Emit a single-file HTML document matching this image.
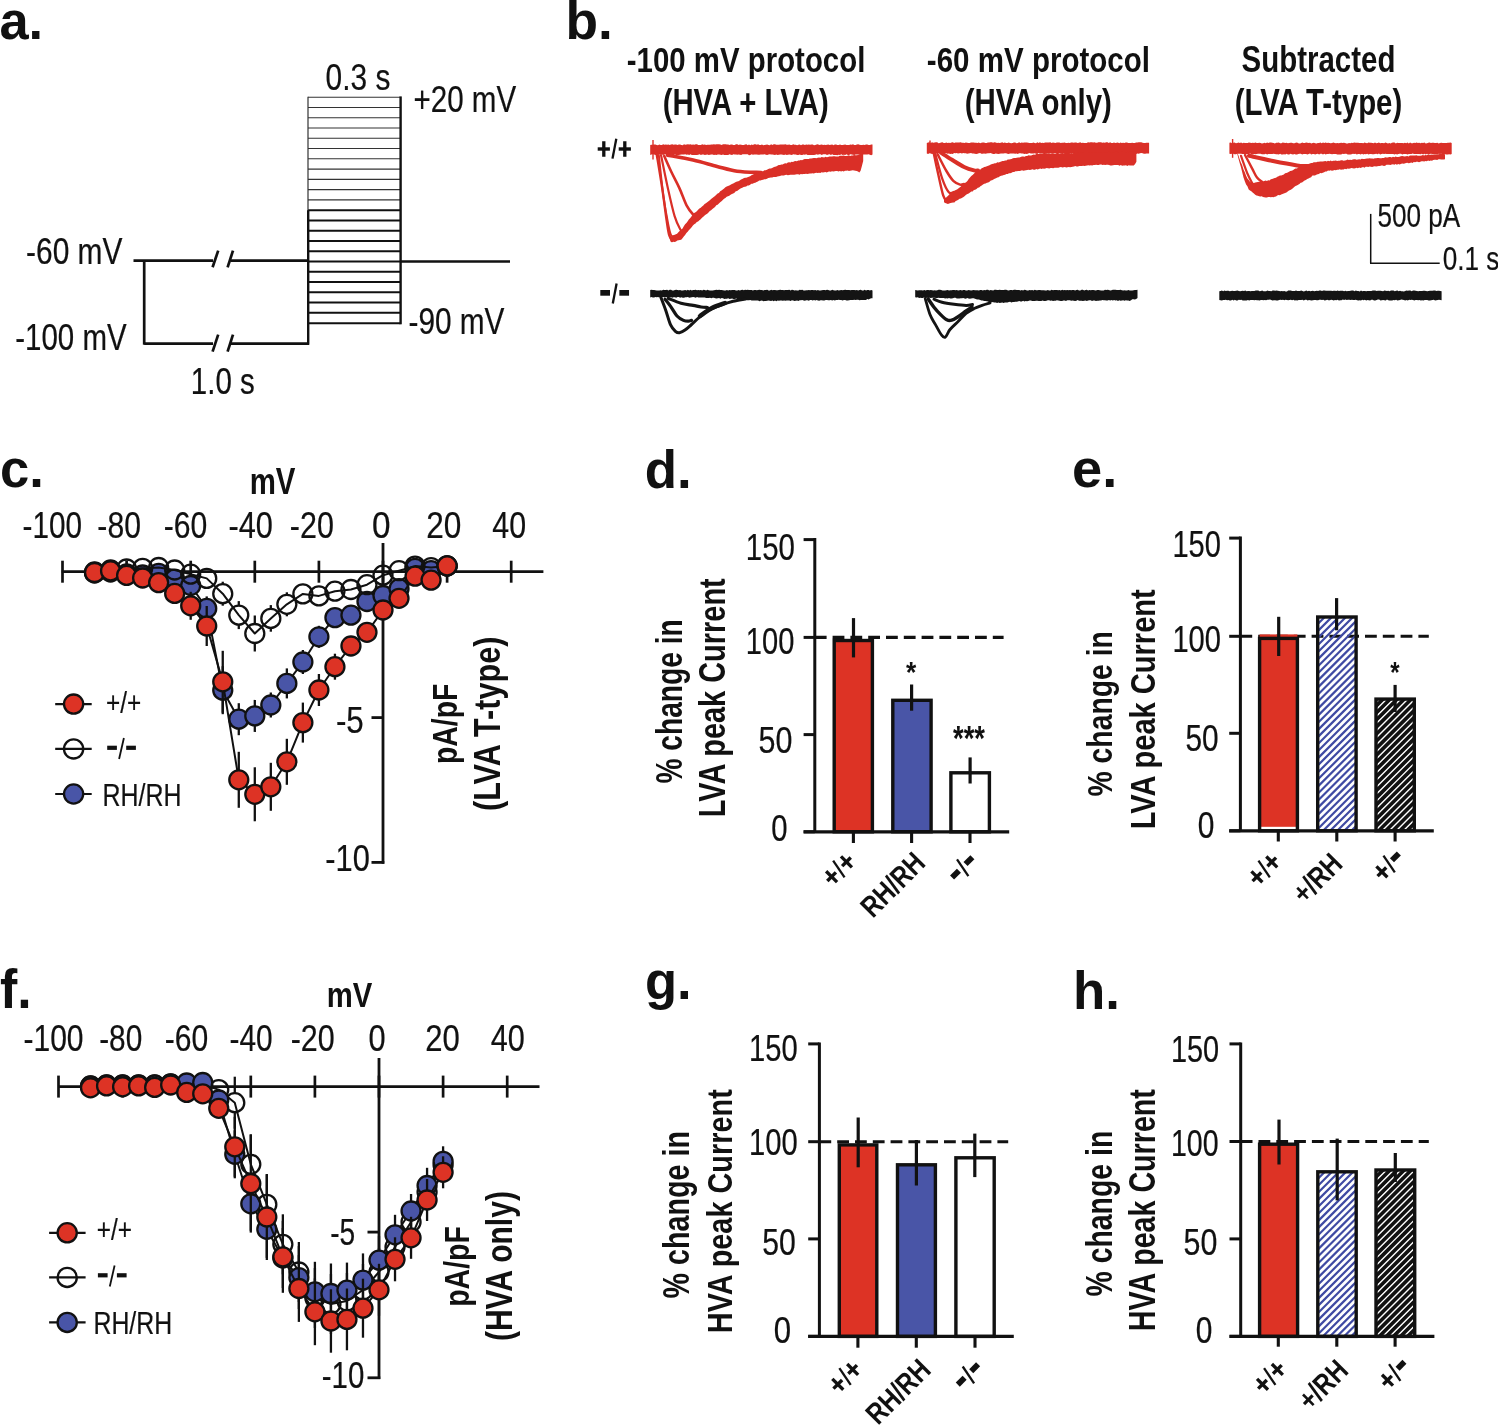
<!DOCTYPE html>
<html><head><meta charset="utf-8"><style>
html,body{margin:0;padding:0;background:#fff;}
svg{display:block;will-change:transform;}
text{font-family:"Liberation Sans",sans-serif;}
</style></head><body>
<svg width="1498" height="1426" viewBox="0 0 1498 1426">
<rect width="1498" height="1426" fill="#fff"/>
<text transform="translate(-0.57,38.80) scale(0.9784,1)" font-size="53.58" font-weight="bold" fill="#111">a.</text>
<text transform="translate(565.54,39.00) scale(1.0087,1)" font-size="52.83" font-weight="bold" fill="#111">b.</text>
<text transform="translate(0.10,487.10) scale(0.9954,1)" font-size="52.84" font-weight="bold" fill="#111">c.</text>
<text transform="translate(644.69,487.70) scale(0.9878,1)" font-size="53.52" font-weight="bold" fill="#111">d.</text>
<text transform="translate(1072.03,486.70) scale(1.0056,1)" font-size="53.95" font-weight="bold" fill="#111">e.</text>
<text transform="translate(-0.11,1007.80) scale(0.9496,1)" font-size="54.62" font-weight="bold" fill="#111">f.</text>
<text transform="translate(644.90,998.70) scale(0.9852,1)" font-size="53.40" font-weight="bold" fill="#111">g.</text>
<text transform="translate(1073.00,1008.70) scale(0.9925,1)" font-size="53.24" font-weight="bold" fill="#111">h.</text>
<line x1="133.50" y1="260.70" x2="213.00" y2="260.70" stroke="#111" stroke-width="2.7"/>
<line x1="230.50" y1="260.70" x2="308.00" y2="260.70" stroke="#111" stroke-width="2.7"/>
<line x1="212.60" y1="267.30" x2="218.20" y2="250.60" stroke="#111" stroke-width="2.7"/>
<line x1="227.60" y1="267.30" x2="233.00" y2="250.60" stroke="#111" stroke-width="2.7"/>
<line x1="144.20" y1="343.60" x2="213.00" y2="343.60" stroke="#111" stroke-width="2.7"/>
<line x1="230.50" y1="343.60" x2="309.00" y2="343.60" stroke="#111" stroke-width="2.7"/>
<line x1="212.60" y1="351.70" x2="218.20" y2="334.60" stroke="#111" stroke-width="2.7"/>
<line x1="227.60" y1="351.70" x2="233.00" y2="334.60" stroke="#111" stroke-width="2.7"/>
<line x1="144.20" y1="260.00" x2="144.20" y2="344.70" stroke="#111" stroke-width="2.7"/>
<line x1="308.00" y1="97.20" x2="400.40" y2="97.20" stroke="#333" stroke-width="1.1"/>
<line x1="308.00" y1="107.47" x2="400.40" y2="107.47" stroke="#333" stroke-width="1.1"/>
<line x1="308.00" y1="117.74" x2="400.40" y2="117.74" stroke="#333" stroke-width="1.1"/>
<line x1="308.00" y1="128.01" x2="400.40" y2="128.01" stroke="#333" stroke-width="1.1"/>
<line x1="308.00" y1="138.28" x2="400.40" y2="138.28" stroke="#333" stroke-width="1.1"/>
<line x1="308.00" y1="148.55" x2="400.40" y2="148.55" stroke="#333" stroke-width="1.1"/>
<line x1="308.00" y1="158.82" x2="400.40" y2="158.82" stroke="#333" stroke-width="1.1"/>
<line x1="308.00" y1="169.09" x2="400.40" y2="169.09" stroke="#333" stroke-width="1.1"/>
<line x1="308.00" y1="179.36" x2="400.40" y2="179.36" stroke="#333" stroke-width="1.1"/>
<line x1="308.00" y1="189.63" x2="400.40" y2="189.63" stroke="#333" stroke-width="1.1"/>
<line x1="308.00" y1="199.90" x2="400.40" y2="199.90" stroke="#333" stroke-width="1.1"/>
<line x1="308.00" y1="210.17" x2="400.40" y2="210.17" stroke="#111" stroke-width="2.0"/>
<line x1="308.00" y1="220.44" x2="400.40" y2="220.44" stroke="#111" stroke-width="2.0"/>
<line x1="308.00" y1="230.71" x2="400.40" y2="230.71" stroke="#111" stroke-width="2.0"/>
<line x1="308.00" y1="240.98" x2="400.40" y2="240.98" stroke="#111" stroke-width="2.0"/>
<line x1="308.00" y1="251.25" x2="400.40" y2="251.25" stroke="#111" stroke-width="2.0"/>
<line x1="308.00" y1="261.52" x2="400.40" y2="261.52" stroke="#111" stroke-width="2.0"/>
<line x1="308.00" y1="271.79" x2="400.40" y2="271.79" stroke="#111" stroke-width="2.0"/>
<line x1="308.00" y1="282.06" x2="400.40" y2="282.06" stroke="#111" stroke-width="2.0"/>
<line x1="308.00" y1="292.33" x2="400.40" y2="292.33" stroke="#111" stroke-width="2.0"/>
<line x1="308.00" y1="302.60" x2="400.40" y2="302.60" stroke="#111" stroke-width="2.0"/>
<line x1="308.00" y1="312.87" x2="400.40" y2="312.87" stroke="#111" stroke-width="2.0"/>
<line x1="308.00" y1="323.14" x2="400.40" y2="323.14" stroke="#111" stroke-width="2.0"/>
<line x1="308.00" y1="96.70" x2="308.00" y2="210.70" stroke="#333" stroke-width="1.2"/>
<line x1="308.20" y1="210.20" x2="308.20" y2="344.70" stroke="#111" stroke-width="2.4"/>
<line x1="400.60" y1="96.40" x2="400.60" y2="324.30" stroke="#111" stroke-width="2.4"/>
<line x1="400.40" y1="261.50" x2="510.00" y2="261.50" stroke="#111" stroke-width="2.7"/>
<text transform="translate(325.61,89.55) scale(0.7918,1)" font-size="37.71" stroke="#111" stroke-width="0.22" fill="#111">0.3 s</text>
<text transform="translate(413.50,111.95) scale(0.7840,1)" font-size="37.71" stroke="#111" stroke-width="0.22" fill="#111">+20 mV</text>
<text transform="translate(26.05,264.40) scale(0.7931,1)" font-size="37.71" stroke="#111" stroke-width="0.22" fill="#111">-60 mV</text>
<text transform="translate(15.27,350.45) scale(0.7812,1)" font-size="37.71" stroke="#111" stroke-width="0.22" fill="#111">-100 mV</text>
<text transform="translate(408.46,334.10) scale(0.7898,1)" font-size="37.71" stroke="#111" stroke-width="0.22" fill="#111">-90 mV</text>
<text transform="translate(190.79,394.25) scale(0.7821,1)" font-size="37.71" stroke="#111" stroke-width="0.22" fill="#111">1.0 s</text>
<text transform="translate(626.82,71.80) scale(0.8458,1)" font-size="34.76" font-weight="bold" fill="#111">-100 mV protocol</text>
<text transform="translate(662.63,114.70) scale(0.7769,1)" font-size="37.79" font-weight="bold" fill="#111">(HVA + LVA)</text>
<text transform="translate(926.82,71.80) scale(0.8498,1)" font-size="34.76" font-weight="bold" fill="#111">-60 mV protocol</text>
<text transform="translate(964.73,114.70) scale(0.7791,1)" font-size="37.79" font-weight="bold" fill="#111">(HVA only)</text>
<text transform="translate(1241.52,72.40) scale(0.8158,1)" font-size="36.14" font-weight="bold" fill="#111">Subtracted</text>
<text transform="translate(1234.63,114.70) scale(0.7777,1)" font-size="37.79" font-weight="bold" fill="#111">(LVA T-type)</text>
<g transform="translate(603.80,149.00) rotate(0)" fill="#111"><rect x="-6.10" y="-1.70" width="12.2" height="3.4"/><rect x="-1.65" y="-7.75" width="3.30" height="15.5"/><line x1="8.70" y1="9.60" x2="12.50" y2="-10.30" stroke="#111" stroke-width="2.3"/><rect x="14.90" y="-1.70" width="12.2" height="3.4"/><rect x="19.35" y="-7.75" width="3.30" height="15.5"/></g>
<g transform="translate(605.15,293.85) rotate(0)" fill="#111"><rect x="-4.85" y="-3.85" width="9.7" height="5.7"/><line x1="7.65" y1="9.60" x2="11.45" y2="-10.30" stroke="#111" stroke-width="2.3"/><rect x="14.20" y="-3.85" width="9.7" height="5.7"/></g>
<text transform="translate(1377.45,227.00) scale(0.8033,1)" font-size="32.54" stroke="#111" stroke-width="0.22" fill="#111">500 pA</text>
<text transform="translate(1442.75,269.90) scale(0.8033,1)" font-size="32.54" stroke="#111" stroke-width="0.22" fill="#111">0.1 s</text>
<line x1="1370.70" y1="213.90" x2="1370.70" y2="263.20" stroke="#111" stroke-width="1.5"/>
<line x1="1370.00" y1="263.20" x2="1439.70" y2="263.20" stroke="#111" stroke-width="1.5"/>
<polygon points="650.2,145.0 651.5,144.7 652.8,144.8 654.1,144.6 655.4,144.6 656.7,145.1 658.0,145.2 659.3,144.4 660.6,144.9 661.9,145.0 663.2,144.2 664.5,144.7 665.8,144.4 667.1,144.7 668.4,144.6 669.7,145.0 671.0,144.6 672.3,144.3 673.6,144.7 674.9,144.5 676.2,144.5 677.5,145.1 678.8,144.4 680.1,144.6 681.4,144.9 682.7,145.2 684.0,144.3 685.3,144.7 686.6,144.5 687.9,144.3 689.2,144.5 690.5,144.3 691.8,144.8 693.1,144.4 694.4,144.8 695.7,144.3 697.0,144.3 698.3,145.1 699.6,145.1 700.9,145.0 702.2,144.2 703.5,144.8 704.8,144.6 706.1,144.9 707.4,144.7 708.7,144.8 710.0,144.8 711.3,144.6 712.6,144.6 713.9,144.3 715.2,144.5 716.5,144.3 717.8,144.3 719.1,144.2 720.4,144.5 721.7,145.0 723.0,144.3 724.3,144.2 725.6,144.3 726.9,144.6 728.2,144.5 729.5,145.0 730.8,144.4 732.1,144.6 733.4,144.9 734.7,145.1 736.0,144.3 737.3,144.2 738.6,145.1 739.9,144.4 741.2,144.8 742.5,145.0 743.8,144.9 745.1,144.4 746.4,144.3 747.7,145.2 749.0,144.6 750.3,145.2 751.6,144.5 752.9,144.9 754.2,144.3 755.5,144.2 756.8,144.7 758.1,144.2 759.4,144.9 760.7,145.1 762.0,144.6 763.3,145.2 764.6,145.0 765.9,144.8 767.2,144.6 768.5,145.0 769.8,145.2 771.1,144.3 772.4,144.9 773.7,144.2 775.0,144.3 776.3,144.8 777.6,144.7 778.9,144.7 780.2,144.6 781.5,144.6 782.8,144.6 784.1,144.6 785.4,144.3 786.7,144.7 788.0,144.8 789.3,144.5 790.6,145.0 791.9,144.9 793.2,144.2 794.5,144.7 795.8,144.7 797.1,145.2 798.4,144.8 799.7,144.6 801.0,145.2 802.3,144.6 803.6,144.6 804.9,145.1 806.2,144.6 807.5,144.7 808.8,144.5 810.1,144.8 811.4,144.5 812.7,144.5 814.0,145.2 815.3,145.1 816.6,144.5 817.9,144.2 819.2,144.9 820.5,144.7 821.8,144.6 823.1,144.9 824.4,144.8 825.7,144.9 827.0,144.8 828.3,144.6 829.6,144.9 830.9,144.8 832.2,144.4 833.5,145.2 834.8,144.6 836.1,144.5 837.4,144.9 838.7,145.0 840.0,144.4 841.3,145.0 842.6,145.0 843.9,144.8 845.2,144.5 846.5,145.1 847.8,144.9 849.1,144.9 850.4,144.4 851.7,144.8 853.0,144.3 854.3,145.0 855.6,144.9 856.9,144.5 858.2,144.3 859.5,144.7 860.8,145.0 862.1,145.1 863.4,144.7 864.7,145.0 866.0,144.4 867.3,144.4 868.6,145.0 869.9,144.9 871.2,144.4 872.5,144.6 872.5,154.6 871.2,155.2 869.9,154.7 868.6,154.3 867.3,154.6 866.0,154.6 864.7,154.6 863.4,154.6 862.1,154.6 860.8,155.0 859.5,154.8 858.2,154.4 856.9,154.4 855.6,154.4 854.3,155.0 853.0,154.8 851.7,154.5 850.4,154.3 849.1,155.1 847.8,154.9 846.5,154.3 845.2,154.9 843.9,154.7 842.6,155.0 841.3,154.2 840.0,155.0 838.7,154.8 837.4,155.2 836.1,155.0 834.8,154.9 833.5,155.0 832.2,154.3 830.9,155.0 829.6,154.2 828.3,154.4 827.0,155.1 825.7,154.3 824.4,154.3 823.1,154.2 821.8,155.0 820.5,154.3 819.2,154.2 817.9,154.8 816.6,154.3 815.3,154.8 814.0,154.9 812.7,154.9 811.4,155.0 810.1,155.1 808.8,154.9 807.5,155.0 806.2,154.3 804.9,154.7 803.6,154.5 802.3,155.0 801.0,155.1 799.7,154.6 798.4,155.1 797.1,155.1 795.8,154.6 794.5,154.6 793.2,154.3 791.9,154.9 790.6,154.7 789.3,154.4 788.0,154.7 786.7,154.9 785.4,154.6 784.1,154.9 782.8,154.7 781.5,154.6 780.2,154.6 778.9,154.8 777.6,155.0 776.3,154.6 775.0,155.0 773.7,154.8 772.4,154.6 771.1,154.4 769.8,154.3 768.5,154.6 767.2,154.9 765.9,154.8 764.6,154.3 763.3,154.5 762.0,154.4 760.7,154.6 759.4,154.8 758.1,154.8 756.8,154.6 755.5,154.5 754.2,154.5 752.9,154.7 751.6,154.3 750.3,155.1 749.0,155.2 747.7,154.3 746.4,154.3 745.1,154.3 743.8,154.3 742.5,154.2 741.2,155.0 739.9,154.7 738.6,154.6 737.3,154.7 736.0,154.5 734.7,154.5 733.4,154.2 732.1,155.1 730.8,154.8 729.5,154.2 728.2,155.0 726.9,155.0 725.6,155.1 724.3,155.0 723.0,154.4 721.7,155.0 720.4,154.7 719.1,154.4 717.8,154.6 716.5,155.0 715.2,154.7 713.9,155.1 712.6,154.5 711.3,154.5 710.0,154.8 708.7,155.1 707.4,154.6 706.1,154.7 704.8,154.9 703.5,154.5 702.2,154.4 700.9,154.9 699.6,154.2 698.3,154.8 697.0,155.1 695.7,155.1 694.4,155.1 693.1,154.9 691.8,155.1 690.5,154.2 689.2,155.0 687.9,154.5 686.6,154.8 685.3,154.3 684.0,154.4 682.7,154.5 681.4,154.5 680.1,154.7 678.8,154.9 677.5,155.0 676.2,154.9 674.9,154.4 673.6,155.1 672.3,155.2 671.0,154.6 669.7,155.2 668.4,155.1 667.1,155.1 665.8,154.2 664.5,154.4 663.2,155.1 661.9,154.6 660.6,154.6 659.3,154.6 658.0,154.5 656.7,154.5 655.4,155.0 654.1,154.5 652.8,154.3 651.5,154.5 650.2,155.0" fill="#da2f27"/>
<line x1="653.00" y1="140.00" x2="653.00" y2="159.60" stroke="#da2f27" stroke-width="1.4"/>
<path d="M656.50,153.00 C657.45,158.85 660.52,176.92 662.20,188.10 C663.88,199.28 665.47,212.37 666.60,220.10 C667.73,227.83 668.13,231.13 669.00,234.50 C669.87,237.87 671.33,239.33 671.80,240.30" fill="none" stroke="#da2f27" stroke-width="2.4" stroke-linejoin="round" stroke-linecap="round"/>
<path d="M658.80,155.00 C659.57,161.85 661.83,184.58 663.40,196.10 C664.97,207.62 666.87,217.52 668.20,224.10 C669.53,230.68 669.93,233.78 671.40,235.60 C672.87,237.42 676.07,235.10 677.00,235.00" fill="none" stroke="#da2f27" stroke-width="2.0" stroke-linejoin="round" stroke-linecap="round"/>
<path d="M661.00,155.00 C662.20,160.78 665.93,179.52 668.20,189.70 C670.47,199.88 672.60,209.52 674.60,216.10 C676.60,222.68 678.88,226.83 680.20,229.20 C681.52,231.57 682.12,230.12 682.50,230.30" fill="none" stroke="#da2f27" stroke-width="2.2" stroke-linejoin="round" stroke-linecap="round"/>
<path d="M664.20,156.00 C665.40,158.67 668.87,166.65 671.40,172.00 C673.93,177.35 676.85,182.48 679.40,188.10 C681.95,193.72 684.42,201.30 686.70,205.70 C688.98,210.10 691.38,212.70 693.10,214.50 C694.82,216.30 696.35,216.17 697.00,216.50" fill="none" stroke="#da2f27" stroke-width="2.6" stroke-linejoin="round" stroke-linecap="round"/>
<path d="M667.40,155.20 C671.68,156.00 684.82,158.13 693.10,160.00 C701.38,161.87 709.77,164.53 717.10,166.40 C724.43,168.27 729.75,170.18 737.10,171.20 C744.45,172.22 757.18,172.28 761.20,172.50" fill="none" stroke="#da2f27" stroke-width="3.6" stroke-linejoin="round" stroke-linecap="round"/>
<polygon points="669.5,235.4 670.8,236.4 672.1,236.6 673.4,236.5 674.7,235.5 676.0,234.5 677.3,233.4 678.6,232.1 679.9,230.7 681.2,230.1 682.5,228.4 683.8,226.2 685.1,224.3 686.4,222.9 687.7,221.3 689.0,219.3 690.3,218.1 691.6,216.3 692.9,214.6 694.2,213.1 695.5,212.2 696.8,211.2 698.1,209.7 699.4,208.4 700.7,207.8 702.0,206.4 703.3,205.5 704.6,204.0 705.9,203.2 707.2,202.3 708.5,201.2 709.8,200.3 711.1,198.9 712.4,197.9 713.7,197.1 715.0,195.9 716.3,194.8 717.6,193.4 718.9,192.9 720.2,191.2 721.5,190.5 722.8,189.4 724.1,188.4 725.4,187.2 726.7,186.5 728.0,186.1 729.3,185.5 730.6,184.7 731.9,183.9 733.2,183.6 734.5,182.7 735.8,181.9 737.1,181.6 738.4,181.2 739.7,180.5 741.0,179.5 742.3,179.0 743.6,178.2 744.9,177.8 746.2,177.8 747.5,177.3 748.8,176.7 750.1,176.3 751.4,175.3 752.7,174.7 754.0,174.1 755.3,174.1 756.6,173.1 757.9,173.1 759.2,172.5 760.5,171.7 761.8,171.7 763.1,171.3 764.4,170.2 765.7,170.2 767.0,169.7 768.3,169.0 769.6,168.5 770.9,168.6 772.2,167.9 773.5,167.3 774.8,166.8 776.1,166.6 777.4,165.8 778.7,165.1 780.0,165.1 781.3,164.5 782.6,164.4 783.9,163.8 785.2,163.2 786.5,163.4 787.8,162.5 789.1,162.3 790.4,162.6 791.7,161.7 793.0,161.9 794.3,161.3 795.6,161.1 796.9,161.2 798.2,160.6 799.5,160.4 800.8,160.0 802.1,160.2 803.4,159.5 804.7,159.1 806.0,159.1 807.3,158.9 808.6,159.0 809.9,158.6 811.2,158.6 812.5,158.2 813.8,158.1 815.1,158.0 816.4,158.2 817.7,157.7 819.0,157.6 820.3,157.8 821.6,157.1 822.9,157.2 824.2,157.5 825.5,156.7 826.8,157.2 828.1,156.9 829.4,156.5 830.7,156.5 832.0,156.4 833.3,156.2 834.6,156.3 835.9,156.4 837.2,156.4 838.5,156.4 839.8,155.8 841.1,155.7 842.4,155.8 843.7,155.6 845.0,155.9 846.3,155.9 847.6,155.7 848.9,155.3 850.2,155.9 851.5,155.4 852.8,155.6 854.1,155.1 855.4,155.3 856.7,155.2 858.0,154.9 859.3,154.5 860.6,154.1 861.9,154.1 863.2,153.5 863.2,161.0 861.9,166.0 860.6,170.8 859.3,172.5 858.0,171.5 856.7,171.0 855.4,170.8 854.1,170.6 852.8,170.2 851.5,170.5 850.2,170.8 848.9,171.0 847.6,170.6 846.3,170.7 845.0,170.8 843.7,171.4 842.4,171.1 841.1,171.4 839.8,171.0 838.5,171.5 837.2,171.0 835.9,171.1 834.6,171.3 833.3,171.6 832.0,171.3 830.7,171.7 829.4,171.5 828.1,171.8 826.8,172.5 825.5,171.9 824.2,172.3 822.9,172.4 821.6,172.3 820.3,172.9 819.0,172.8 817.7,173.0 816.4,172.8 815.1,172.9 813.8,173.4 812.5,173.3 811.2,173.4 809.9,173.4 808.6,173.7 807.3,174.0 806.0,173.8 804.7,173.9 803.4,174.0 802.1,174.3 800.8,174.1 799.5,174.7 798.2,174.3 796.9,174.2 795.6,174.4 794.3,174.8 793.0,174.8 791.7,174.7 790.4,174.8 789.1,175.1 787.8,175.3 786.5,174.8 785.2,175.1 783.9,175.4 782.6,175.5 781.3,175.6 780.0,176.1 778.7,176.2 777.4,176.6 776.1,177.0 774.8,177.1 773.5,177.1 772.2,177.4 770.9,177.6 769.6,177.8 768.3,178.1 767.0,178.7 765.7,179.2 764.4,179.2 763.1,179.8 761.8,180.1 760.5,180.4 759.2,180.6 757.9,181.5 756.6,182.0 755.3,182.7 754.0,183.0 752.7,183.8 751.4,183.8 750.1,184.7 748.8,185.4 747.5,185.6 746.2,186.6 744.9,186.8 743.6,187.0 742.3,187.7 741.0,188.3 739.7,188.9 738.4,190.1 737.1,191.1 735.8,191.3 734.5,192.7 733.2,193.6 731.9,194.0 730.6,194.7 729.3,195.7 728.0,196.3 726.7,196.8 725.4,197.9 724.1,198.7 722.8,200.0 721.5,201.2 720.2,202.3 718.9,203.5 717.6,204.7 716.3,205.2 715.0,206.9 713.7,207.9 712.4,208.9 711.1,210.3 709.8,210.9 708.5,212.4 707.2,213.7 705.9,214.5 704.6,215.6 703.3,216.7 702.0,217.7 700.7,219.3 699.4,220.3 698.1,221.4 696.8,221.9 695.5,223.6 694.2,224.3 692.9,225.4 691.6,227.2 690.3,228.7 689.0,230.0 687.7,231.7 686.4,233.0 685.1,234.9 683.8,236.6 682.5,238.2 681.2,239.7 679.9,240.0 678.6,240.2 677.3,240.6 676.0,241.5 674.7,241.9 673.4,241.8 672.1,242.2 670.8,242.1 669.5,238.1" fill="#da2f27"/>
<polygon points="926.8,143.1 928.1,142.5 929.4,142.3 930.7,143.0 932.0,142.2 933.3,142.7 934.6,142.4 935.9,142.3 937.2,142.3 938.5,143.2 939.8,142.9 941.1,142.6 942.4,142.3 943.7,143.1 945.0,142.9 946.3,142.4 947.6,143.1 948.9,142.8 950.2,142.9 951.5,142.5 952.8,142.3 954.1,143.0 955.4,142.5 956.7,142.5 958.0,142.4 959.3,142.6 960.6,142.3 961.9,142.8 963.2,142.8 964.5,143.0 965.8,142.4 967.1,142.7 968.4,142.9 969.7,143.0 971.0,142.5 972.3,142.6 973.6,142.5 974.9,142.8 976.2,142.7 977.5,143.0 978.8,142.5 980.1,143.2 981.4,142.7 982.7,142.4 984.0,142.5 985.3,143.1 986.6,143.0 987.9,142.4 989.2,142.6 990.5,142.3 991.8,142.3 993.1,142.8 994.4,142.3 995.7,142.5 997.0,142.9 998.3,142.8 999.6,143.1 1000.9,142.8 1002.2,142.2 1003.5,143.1 1004.8,142.6 1006.1,143.1 1007.4,143.1 1008.7,142.6 1010.0,143.0 1011.3,143.2 1012.6,143.0 1013.9,142.6 1015.2,142.6 1016.5,143.2 1017.8,143.0 1019.1,142.2 1020.4,143.0 1021.7,142.6 1023.0,142.8 1024.3,142.4 1025.6,142.6 1026.9,142.4 1028.2,142.7 1029.5,143.0 1030.8,143.0 1032.1,143.1 1033.4,142.4 1034.7,143.1 1036.0,143.2 1037.3,142.2 1038.6,143.0 1039.9,142.3 1041.2,143.1 1042.5,142.7 1043.8,143.0 1045.1,142.4 1046.4,142.6 1047.7,142.6 1049.0,142.4 1050.3,142.3 1051.6,142.9 1052.9,142.6 1054.2,142.8 1055.5,143.1 1056.8,142.4 1058.1,142.6 1059.4,142.4 1060.7,143.0 1062.0,142.7 1063.3,142.7 1064.6,142.5 1065.9,143.1 1067.2,142.9 1068.5,142.7 1069.8,143.1 1071.1,142.6 1072.4,142.5 1073.7,142.8 1075.0,142.6 1076.3,142.6 1077.6,143.0 1078.9,142.8 1080.2,142.2 1081.5,142.9 1082.8,142.8 1084.1,143.1 1085.4,143.0 1086.7,143.0 1088.0,142.3 1089.3,142.5 1090.6,142.3 1091.9,142.2 1093.2,142.6 1094.5,142.3 1095.8,142.7 1097.1,142.8 1098.4,142.3 1099.7,142.3 1101.0,142.3 1102.3,142.7 1103.6,142.4 1104.9,142.8 1106.2,142.2 1107.5,142.3 1108.8,142.9 1110.1,142.3 1111.4,143.0 1112.7,143.1 1114.0,142.5 1115.3,142.9 1116.6,142.7 1117.9,142.6 1119.2,143.2 1120.5,142.5 1121.8,142.9 1123.1,142.8 1124.4,142.9 1125.7,142.5 1127.0,142.5 1128.3,142.9 1129.6,143.1 1130.9,142.9 1132.2,142.8 1133.5,143.1 1134.8,143.0 1136.1,142.4 1137.4,142.5 1138.7,142.2 1140.0,142.2 1141.3,142.3 1142.6,142.8 1143.9,143.0 1145.2,142.9 1146.5,142.7 1147.8,142.7 1149.1,142.7 1149.1,153.5 1147.8,153.5 1146.5,153.6 1145.2,153.8 1143.9,153.7 1142.6,153.3 1141.3,153.0 1140.0,153.3 1138.7,153.7 1137.4,153.5 1136.1,154.0 1134.8,153.4 1133.5,153.2 1132.2,154.0 1130.9,154.0 1129.6,153.9 1128.3,153.2 1127.0,153.1 1125.7,153.9 1124.4,153.4 1123.1,153.1 1121.8,153.1 1120.5,153.1 1119.2,153.3 1117.9,154.0 1116.6,153.4 1115.3,153.1 1114.0,153.4 1112.7,153.5 1111.4,154.0 1110.1,153.0 1108.8,153.9 1107.5,153.8 1106.2,153.2 1104.9,153.2 1103.6,153.8 1102.3,153.1 1101.0,153.1 1099.7,153.6 1098.4,153.7 1097.1,154.0 1095.8,153.2 1094.5,153.9 1093.2,153.1 1091.9,154.0 1090.6,153.2 1089.3,153.0 1088.0,153.5 1086.7,153.3 1085.4,153.5 1084.1,153.3 1082.8,153.1 1081.5,154.0 1080.2,153.3 1078.9,153.0 1077.6,153.8 1076.3,153.6 1075.0,153.8 1073.7,153.7 1072.4,153.5 1071.1,153.1 1069.8,153.2 1068.5,153.2 1067.2,153.1 1065.9,154.0 1064.6,153.3 1063.3,153.1 1062.0,153.3 1060.7,153.4 1059.4,153.3 1058.1,153.9 1056.8,153.9 1055.5,153.3 1054.2,153.3 1052.9,153.8 1051.6,153.4 1050.3,153.2 1049.0,153.9 1047.7,153.2 1046.4,153.6 1045.1,154.0 1043.8,153.9 1042.5,153.5 1041.2,153.4 1039.9,153.7 1038.6,153.1 1037.3,153.9 1036.0,153.7 1034.7,153.3 1033.4,153.5 1032.1,153.5 1030.8,153.6 1029.5,153.0 1028.2,153.6 1026.9,153.9 1025.6,153.8 1024.3,153.9 1023.0,153.4 1021.7,153.5 1020.4,153.3 1019.1,153.2 1017.8,154.0 1016.5,153.5 1015.2,153.8 1013.9,153.5 1012.6,153.4 1011.3,153.4 1010.0,153.5 1008.7,154.0 1007.4,153.7 1006.1,153.2 1004.8,153.2 1003.5,153.5 1002.2,153.4 1000.9,153.6 999.6,153.8 998.3,153.9 997.0,153.7 995.7,153.5 994.4,153.9 993.1,153.9 991.8,153.6 990.5,153.0 989.2,153.2 987.9,153.3 986.6,153.6 985.3,153.8 984.0,153.5 982.7,153.8 981.4,153.8 980.1,153.1 978.8,153.2 977.5,153.8 976.2,153.9 974.9,153.7 973.6,153.6 972.3,153.4 971.0,153.0 969.7,153.3 968.4,153.4 967.1,153.8 965.8,153.2 964.5,153.3 963.2,153.1 961.9,153.5 960.6,153.1 959.3,153.3 958.0,153.4 956.7,153.0 955.4,153.2 954.1,153.0 952.8,154.0 951.5,153.8 950.2,154.0 948.9,153.5 947.6,153.8 946.3,153.2 945.0,153.1 943.7,153.2 942.4,153.5 941.1,153.5 939.8,153.1 938.5,153.0 937.2,153.8 935.9,153.2 934.6,153.3 933.3,153.8 932.0,153.9 930.7,153.5 929.4,153.3 928.1,153.9 926.8,153.4" fill="#da2f27"/>
<line x1="930.00" y1="140.50" x2="930.00" y2="152.00" stroke="#da2f27" stroke-width="1.4"/>
<path d="M933.60,152.60 C934.40,156.33 936.80,167.87 938.40,175.00 C940.00,182.13 941.87,191.13 943.20,195.40 C944.53,199.67 945.87,199.73 946.40,200.60" fill="none" stroke="#da2f27" stroke-width="2.4" stroke-linejoin="round" stroke-linecap="round"/>
<path d="M935.20,153.40 C936.40,157.68 940.13,172.63 942.40,179.10 C944.67,185.57 946.87,190.05 948.80,192.20 C950.73,194.35 953.13,192.03 954.00,192.00" fill="none" stroke="#da2f27" stroke-width="2.3" stroke-linejoin="round" stroke-linecap="round"/>
<path d="M937.60,154.20 C939.07,157.00 943.73,166.50 946.40,171.00 C949.07,175.50 951.33,178.93 953.60,181.20 C955.87,183.47 958.27,184.13 960.00,184.60 C961.73,185.07 963.33,184.10 964.00,184.00" fill="none" stroke="#da2f27" stroke-width="2.5" stroke-linejoin="round" stroke-linecap="round"/>
<path d="M940.80,152.60 C942.67,153.80 948.12,157.40 952.00,159.80 C955.88,162.20 960.43,165.23 964.10,167.00 C967.77,168.77 971.68,169.82 974.00,170.40 C976.32,170.98 977.33,170.48 978.00,170.50" fill="none" stroke="#da2f27" stroke-width="4.0" stroke-linejoin="round" stroke-linecap="round"/>
<polygon points="944.0,200.1 945.3,198.7 946.6,197.0 947.9,196.1 949.2,194.4 950.5,193.0 951.8,192.3 953.1,192.0 954.4,190.7 955.7,190.0 957.0,189.6 958.3,188.5 959.6,187.5 960.9,186.6 962.2,184.8 963.5,184.3 964.8,182.9 966.1,182.2 967.4,180.9 968.7,178.9 970.0,177.6 971.3,176.1 972.6,175.0 973.9,173.8 975.2,172.2 976.5,171.6 977.8,170.6 979.1,169.9 980.4,169.4 981.7,168.3 983.0,167.8 984.3,167.0 985.6,166.7 986.9,166.3 988.2,165.8 989.5,165.2 990.8,164.5 992.1,164.1 993.4,163.7 994.7,163.3 996.0,163.3 997.3,162.3 998.6,162.4 999.9,162.1 1001.2,161.5 1002.5,161.0 1003.8,161.0 1005.1,160.4 1006.4,160.4 1007.7,159.5 1009.0,159.6 1010.3,159.2 1011.6,158.9 1012.9,158.3 1014.2,157.9 1015.5,157.9 1016.8,157.7 1018.1,157.4 1019.4,157.6 1020.7,157.1 1022.0,156.5 1023.3,156.4 1024.6,156.7 1025.9,155.9 1027.2,156.0 1028.5,155.3 1029.8,155.6 1031.1,155.5 1032.4,155.0 1033.7,154.5 1035.0,154.7 1036.3,154.1 1037.6,154.0 1038.9,154.1 1040.2,154.0 1041.5,153.8 1042.8,153.8 1044.1,153.8 1045.4,153.6 1046.7,153.3 1048.0,153.6 1049.3,153.9 1050.6,153.8 1051.9,153.6 1053.2,153.4 1054.5,153.8 1055.8,153.8 1057.1,153.6 1058.4,153.6 1059.7,153.7 1061.0,153.3 1062.3,153.0 1063.6,153.2 1064.9,153.0 1066.2,152.9 1067.5,152.9 1068.8,152.8 1070.1,153.2 1071.4,152.9 1072.7,153.4 1074.0,152.7 1075.3,153.1 1076.6,153.0 1077.9,152.6 1079.2,153.1 1080.5,153.1 1081.8,152.6 1083.1,152.7 1084.4,153.1 1085.7,153.1 1087.0,152.9 1088.3,153.1 1089.6,152.4 1090.9,152.9 1092.2,152.8 1093.5,152.7 1094.8,152.5 1096.1,152.6 1097.4,152.4 1098.7,152.3 1100.0,152.5 1101.3,152.7 1102.6,152.0 1103.9,152.2 1105.2,152.7 1106.5,152.3 1107.8,152.1 1109.1,151.8 1110.4,152.6 1111.7,152.6 1113.0,152.2 1114.3,152.2 1115.6,151.8 1116.9,151.8 1118.2,152.2 1119.5,152.1 1120.8,151.9 1122.1,151.6 1123.4,152.1 1124.7,152.0 1126.0,152.2 1127.3,151.7 1128.6,152.2 1129.9,151.4 1131.2,151.7 1132.5,151.6 1133.8,152.0 1135.1,151.9 1136.4,151.6 1136.4,161.7 1135.1,164.1 1133.8,165.5 1132.5,165.4 1131.2,165.6 1129.9,165.6 1128.6,165.3 1127.3,165.9 1126.0,165.3 1124.7,165.4 1123.4,165.4 1122.1,165.7 1120.8,165.0 1119.5,165.7 1118.2,165.1 1116.9,165.1 1115.6,164.9 1114.3,165.1 1113.0,165.2 1111.7,165.4 1110.4,165.4 1109.1,165.1 1107.8,164.7 1106.5,164.7 1105.2,164.9 1103.9,164.7 1102.6,164.9 1101.3,164.5 1100.0,164.5 1098.7,164.9 1097.4,164.9 1096.1,164.8 1094.8,165.1 1093.5,165.0 1092.2,165.5 1090.9,165.3 1089.6,165.5 1088.3,165.3 1087.0,165.6 1085.7,165.8 1084.4,166.0 1083.1,165.7 1081.8,166.1 1080.5,166.1 1079.2,166.1 1077.9,166.5 1076.6,166.5 1075.3,166.1 1074.0,166.4 1072.7,166.8 1071.4,167.0 1070.1,167.2 1068.8,166.9 1067.5,167.3 1066.2,167.4 1064.9,167.0 1063.6,167.3 1062.3,167.5 1061.0,167.1 1059.7,167.2 1058.4,167.8 1057.1,167.7 1055.8,167.7 1054.5,167.8 1053.2,168.2 1051.9,168.0 1050.6,168.1 1049.3,168.5 1048.0,168.3 1046.7,168.0 1045.4,168.5 1044.1,168.7 1042.8,168.5 1041.5,168.9 1040.2,168.5 1038.9,168.9 1037.6,169.4 1036.3,169.0 1035.0,169.7 1033.7,169.7 1032.4,169.3 1031.1,169.8 1029.8,170.1 1028.5,169.8 1027.2,170.1 1025.9,170.2 1024.6,170.6 1023.3,170.7 1022.0,170.2 1020.7,170.7 1019.4,171.0 1018.1,171.1 1016.8,171.2 1015.5,171.3 1014.2,172.0 1012.9,171.9 1011.6,172.7 1010.3,173.2 1009.0,173.2 1007.7,174.1 1006.4,174.1 1005.1,174.8 1003.8,175.1 1002.5,175.4 1001.2,175.7 999.9,176.3 998.6,177.2 997.3,177.5 996.0,178.2 994.7,178.7 993.4,179.5 992.1,180.2 990.8,180.6 989.5,181.8 988.2,182.5 986.9,182.7 985.6,183.5 984.3,183.7 983.0,184.6 981.7,185.4 980.4,186.3 979.1,187.5 977.8,187.7 976.5,189.1 975.2,189.8 973.9,190.1 972.6,191.4 971.3,191.6 970.0,192.5 968.7,193.4 967.4,193.9 966.1,194.8 964.8,196.0 963.5,196.9 962.2,197.7 960.9,198.4 959.6,198.8 958.3,199.8 957.0,200.6 955.7,201.0 954.4,202.4 953.1,202.5 951.8,202.7 950.5,203.1 949.2,203.5 947.9,203.9 946.6,203.6 945.3,203.0 944.0,202.2" fill="#da2f27"/>
<polygon points="1229.4,142.7 1230.7,142.5 1232.0,143.3 1233.3,142.7 1234.6,142.6 1235.9,143.2 1237.2,142.9 1238.5,142.4 1239.8,143.1 1241.1,142.6 1242.4,143.2 1243.7,142.7 1245.0,143.1 1246.3,142.9 1247.6,143.0 1248.9,142.5 1250.2,142.7 1251.5,142.9 1252.8,142.7 1254.1,143.0 1255.4,142.6 1256.7,143.1 1258.0,142.9 1259.3,142.8 1260.6,143.0 1261.9,143.4 1263.2,143.2 1264.5,142.8 1265.8,143.2 1267.1,142.6 1268.4,142.9 1269.7,142.4 1271.0,142.6 1272.3,142.7 1273.6,143.0 1274.9,143.4 1276.2,142.8 1277.5,142.7 1278.8,142.5 1280.1,143.2 1281.4,143.2 1282.7,142.4 1284.0,142.7 1285.3,142.9 1286.6,142.7 1287.9,143.3 1289.2,142.9 1290.5,142.7 1291.8,142.8 1293.1,143.2 1294.4,143.3 1295.7,142.8 1297.0,142.5 1298.3,143.3 1299.6,143.4 1300.9,143.3 1302.2,142.6 1303.5,143.0 1304.8,142.9 1306.1,142.4 1307.4,142.8 1308.7,143.1 1310.0,142.7 1311.3,143.4 1312.6,143.1 1313.9,142.7 1315.2,143.2 1316.5,143.4 1317.8,142.9 1319.1,143.1 1320.4,142.4 1321.7,143.3 1323.0,142.6 1324.3,143.0 1325.6,142.6 1326.9,143.0 1328.2,142.7 1329.5,143.1 1330.8,143.2 1332.1,142.9 1333.4,142.6 1334.7,143.1 1336.0,143.2 1337.3,143.0 1338.6,143.3 1339.9,143.1 1341.2,142.8 1342.5,142.9 1343.8,142.8 1345.1,143.1 1346.4,143.4 1347.7,143.4 1349.0,143.1 1350.3,143.2 1351.6,142.8 1352.9,143.1 1354.2,142.6 1355.5,142.8 1356.8,142.7 1358.1,142.7 1359.4,142.9 1360.7,143.0 1362.0,143.1 1363.3,143.3 1364.6,142.6 1365.9,142.9 1367.2,143.3 1368.5,142.5 1369.8,142.8 1371.1,142.8 1372.4,143.0 1373.7,143.3 1375.0,142.4 1376.3,143.2 1377.6,143.0 1378.9,142.4 1380.2,143.3 1381.5,142.9 1382.8,142.9 1384.1,143.2 1385.4,142.5 1386.7,143.0 1388.0,143.4 1389.3,142.9 1390.6,143.4 1391.9,142.7 1393.2,142.5 1394.5,142.5 1395.8,143.4 1397.1,142.7 1398.4,143.1 1399.7,142.9 1401.0,143.1 1402.3,143.1 1403.6,143.3 1404.9,142.8 1406.2,143.3 1407.5,142.4 1408.8,143.4 1410.1,142.4 1411.4,143.2 1412.7,143.3 1414.0,142.7 1415.3,142.9 1416.6,142.6 1417.9,142.9 1419.2,142.8 1420.5,143.3 1421.8,142.7 1423.1,142.9 1424.4,142.4 1425.7,143.4 1427.0,143.3 1428.3,142.7 1429.6,142.5 1430.9,143.0 1432.2,142.7 1433.5,142.8 1434.8,143.0 1436.1,142.9 1437.4,142.8 1438.7,143.4 1440.0,143.1 1441.3,142.7 1442.6,143.1 1443.9,142.9 1445.2,143.1 1446.5,143.0 1447.8,142.7 1449.1,142.7 1450.4,142.4 1451.7,142.9 1451.7,154.1 1450.4,154.5 1449.1,154.3 1447.8,154.6 1446.5,154.4 1445.2,154.3 1443.9,154.1 1442.6,154.4 1441.3,153.7 1440.0,154.0 1438.7,153.7 1437.4,154.6 1436.1,154.5 1434.8,154.4 1433.5,154.4 1432.2,154.1 1430.9,153.7 1429.6,153.9 1428.3,154.4 1427.0,153.8 1425.7,154.5 1424.4,153.7 1423.1,154.6 1421.8,153.8 1420.5,154.3 1419.2,154.1 1417.9,154.1 1416.6,154.1 1415.3,154.1 1414.0,154.1 1412.7,153.6 1411.4,154.0 1410.1,154.0 1408.8,154.0 1407.5,154.4 1406.2,154.1 1404.9,154.0 1403.6,154.1 1402.3,154.4 1401.0,153.8 1399.7,153.7 1398.4,154.1 1397.1,154.4 1395.8,154.0 1394.5,154.4 1393.2,154.1 1391.9,153.9 1390.6,153.9 1389.3,154.0 1388.0,154.1 1386.7,153.9 1385.4,153.7 1384.1,153.9 1382.8,153.8 1381.5,153.9 1380.2,154.5 1378.9,153.6 1377.6,154.2 1376.3,153.7 1375.0,153.9 1373.7,154.2 1372.4,154.3 1371.1,153.9 1369.8,154.0 1368.5,154.5 1367.2,153.7 1365.9,154.3 1364.6,153.9 1363.3,154.5 1362.0,153.8 1360.7,154.5 1359.4,153.9 1358.1,153.9 1356.8,154.5 1355.5,153.7 1354.2,154.0 1352.9,153.7 1351.6,154.2 1350.3,154.5 1349.0,154.5 1347.7,154.6 1346.4,153.8 1345.1,153.8 1343.8,153.9 1342.5,153.7 1341.2,154.4 1339.9,154.4 1338.6,154.5 1337.3,154.4 1336.0,153.9 1334.7,154.1 1333.4,154.0 1332.1,154.2 1330.8,154.1 1329.5,153.8 1328.2,153.9 1326.9,153.9 1325.6,154.5 1324.3,153.8 1323.0,154.5 1321.7,153.8 1320.4,153.8 1319.1,154.5 1317.8,153.7 1316.5,153.9 1315.2,154.6 1313.9,154.0 1312.6,153.9 1311.3,154.5 1310.0,153.6 1308.7,153.9 1307.4,154.5 1306.1,154.0 1304.8,153.9 1303.5,154.0 1302.2,154.4 1300.9,153.8 1299.6,153.7 1298.3,154.0 1297.0,154.5 1295.7,154.5 1294.4,153.9 1293.1,154.5 1291.8,154.2 1290.5,153.7 1289.2,154.5 1287.9,154.4 1286.6,153.7 1285.3,154.6 1284.0,154.3 1282.7,154.4 1281.4,154.5 1280.1,153.8 1278.8,154.5 1277.5,154.3 1276.2,154.2 1274.9,154.0 1273.6,153.8 1272.3,154.0 1271.0,154.1 1269.7,154.0 1268.4,154.1 1267.1,154.4 1265.8,153.7 1264.5,154.3 1263.2,154.2 1261.9,154.2 1260.6,153.8 1259.3,153.8 1258.0,153.8 1256.7,153.9 1255.4,154.3 1254.1,154.0 1252.8,154.4 1251.5,154.3 1250.2,153.6 1248.9,154.0 1247.6,153.9 1246.3,154.2 1245.0,154.5 1243.7,153.9 1242.4,154.1 1241.1,153.8 1239.8,153.7 1238.5,153.8 1237.2,153.8 1235.9,154.2 1234.6,154.2 1233.3,153.8 1232.0,153.7 1230.7,153.9 1229.4,153.8" fill="#da2f27"/>
<line x1="1232.60" y1="139.00" x2="1232.60" y2="157.80" stroke="#da2f27" stroke-width="1.4"/>
<polygon points="1237.0,152.5 1238.3,155.0 1239.6,158.9 1240.9,162.4 1242.2,165.3 1243.5,169.4 1244.8,172.2 1246.1,175.7 1247.4,178.5 1248.7,180.0 1250.0,181.8 1251.3,182.5 1252.6,182.7 1253.9,183.1 1255.2,182.5 1256.5,182.2 1257.8,182.1 1259.1,181.8 1260.4,181.6 1261.7,182.0 1263.0,181.6 1264.3,181.1 1265.6,180.4 1266.9,180.9 1268.2,180.3 1269.5,180.4 1270.8,179.3 1272.1,179.1 1273.4,178.5 1274.7,177.9 1276.0,177.8 1277.3,176.8 1278.6,176.2 1279.9,175.6 1281.2,175.6 1282.5,175.1 1283.8,174.5 1285.1,173.3 1286.4,173.1 1287.7,172.5 1289.0,171.8 1290.3,171.1 1291.6,170.8 1292.9,170.2 1294.2,169.2 1295.5,168.6 1296.8,168.5 1298.1,167.7 1299.4,165.9 1300.7,165.0 1302.0,164.7 1303.3,164.6 1304.6,163.9 1305.9,164.1 1307.2,164.1 1308.5,164.0 1309.8,163.5 1311.1,163.1 1312.4,163.0 1313.7,162.3 1315.0,162.3 1316.3,162.2 1317.6,161.8 1318.9,161.7 1320.2,161.4 1321.5,161.5 1322.8,161.4 1324.1,161.3 1325.4,160.9 1326.7,161.5 1328.0,160.8 1329.3,161.2 1330.6,160.6 1331.9,161.3 1333.2,160.8 1334.5,160.8 1335.8,160.5 1337.1,160.9 1338.4,160.7 1339.7,160.8 1341.0,160.3 1342.3,160.2 1343.6,160.7 1344.9,160.4 1346.2,160.3 1347.5,159.6 1348.8,159.9 1350.1,159.8 1351.4,159.9 1352.7,159.5 1354.0,159.3 1355.3,159.3 1356.6,159.8 1357.9,159.4 1359.2,159.2 1360.5,159.5 1361.8,158.8 1363.1,159.1 1364.4,159.1 1365.7,158.7 1367.0,158.6 1368.3,158.6 1369.6,158.2 1370.9,158.4 1372.2,158.5 1373.5,158.7 1374.8,158.2 1376.1,158.2 1377.4,158.0 1378.7,158.1 1380.0,158.3 1381.3,158.2 1382.6,158.0 1383.9,158.0 1385.2,157.2 1386.5,157.4 1387.8,157.6 1389.1,157.1 1390.4,157.1 1391.7,157.5 1393.0,156.8 1394.3,157.2 1395.6,156.4 1396.9,157.1 1398.2,156.9 1399.5,156.8 1400.8,156.2 1402.1,156.1 1403.4,156.3 1404.7,156.6 1406.0,156.3 1407.3,156.0 1408.6,156.5 1409.9,155.6 1411.2,155.6 1412.5,155.5 1413.8,155.6 1415.1,155.6 1416.4,155.2 1417.7,155.8 1419.0,155.7 1420.3,155.8 1421.6,155.6 1422.9,155.0 1424.2,155.6 1425.5,154.9 1426.8,155.2 1428.1,154.6 1429.4,154.7 1430.7,154.7 1432.0,154.5 1433.3,155.1 1434.6,154.8 1435.9,154.7 1437.2,154.5 1438.5,154.3 1439.8,154.0 1441.1,154.1 1442.4,153.8 1443.7,153.9 1445.0,154.2 1445.0,159.3 1443.7,159.4 1442.4,159.6 1441.1,159.6 1439.8,159.2 1438.5,159.2 1437.2,159.9 1435.9,159.7 1434.6,159.7 1433.3,160.1 1432.0,160.7 1430.7,160.6 1429.4,161.0 1428.1,160.4 1426.8,161.3 1425.5,160.9 1424.2,161.4 1422.9,161.2 1421.6,161.2 1420.3,161.7 1419.0,162.2 1417.7,161.8 1416.4,161.8 1415.1,162.2 1413.8,162.1 1412.5,162.9 1411.2,162.5 1409.9,162.9 1408.6,163.2 1407.3,162.7 1406.0,163.0 1404.7,163.4 1403.4,163.8 1402.1,163.5 1400.8,164.1 1399.5,164.4 1398.2,164.1 1396.9,164.7 1395.6,164.1 1394.3,164.7 1393.0,164.3 1391.7,164.5 1390.4,165.1 1389.1,164.7 1387.8,164.8 1386.5,164.8 1385.2,165.8 1383.9,165.9 1382.6,165.5 1381.3,165.5 1380.0,165.9 1378.7,166.0 1377.4,166.3 1376.1,166.4 1374.8,166.2 1373.5,166.5 1372.2,166.9 1370.9,166.7 1369.6,166.4 1368.3,167.1 1367.0,166.8 1365.7,166.8 1364.4,167.7 1363.1,167.0 1361.8,167.4 1360.5,168.0 1359.2,167.6 1357.9,168.2 1356.6,167.8 1355.3,168.2 1354.0,168.6 1352.7,168.3 1351.4,168.1 1350.1,168.6 1348.8,168.8 1347.5,168.4 1346.2,169.2 1344.9,168.7 1343.6,169.4 1342.3,169.6 1341.0,169.8 1339.7,169.3 1338.4,169.7 1337.1,169.8 1335.8,170.2 1334.5,170.1 1333.2,170.5 1331.9,170.8 1330.6,170.3 1329.3,170.7 1328.0,170.6 1326.7,171.5 1325.4,171.6 1324.1,172.3 1322.8,172.7 1321.5,173.2 1320.2,173.0 1318.9,174.1 1317.6,174.2 1316.3,174.7 1315.0,175.4 1313.7,175.4 1312.4,175.6 1311.1,177.2 1309.8,177.8 1308.5,178.4 1307.2,179.0 1305.9,180.0 1304.6,180.5 1303.3,181.5 1302.0,182.4 1300.7,182.7 1299.4,183.9 1298.1,184.8 1296.8,185.6 1295.5,185.9 1294.2,186.9 1292.9,188.2 1291.6,189.2 1290.3,190.1 1289.0,190.4 1287.7,191.4 1286.4,192.4 1285.1,193.1 1283.8,193.6 1282.5,193.9 1281.2,194.6 1279.9,195.2 1278.6,195.1 1277.3,195.6 1276.0,196.5 1274.7,196.7 1273.4,197.3 1272.1,196.9 1270.8,197.3 1269.5,196.9 1268.2,197.1 1266.9,197.4 1265.6,197.6 1264.3,197.3 1263.0,197.0 1261.7,196.2 1260.4,196.6 1259.1,196.3 1257.8,195.8 1256.5,195.5 1255.2,194.7 1253.9,193.4 1252.6,192.5 1251.3,191.3 1250.0,190.6 1248.7,189.5 1247.4,186.3 1246.1,184.5 1244.8,181.3 1243.5,177.6 1242.2,172.2 1240.9,167.0 1239.6,162.7 1238.3,158.0 1237.0,153.1" fill="#da2f27"/>
<path d="M1241.00,155.80 C1242.07,158.75 1245.53,168.95 1247.40,173.50 C1249.27,178.05 1251.40,181.50 1252.20,183.10" fill="none" stroke="#da2f27" stroke-width="2.2" stroke-linejoin="round" stroke-linecap="round"/>
<path d="M1245.00,155.00 C1246.20,157.27 1250.20,164.85 1252.20,168.60 C1254.20,172.35 1255.25,175.22 1257.00,177.50 C1258.75,179.78 1261.75,181.50 1262.70,182.30" fill="none" stroke="#da2f27" stroke-width="2.4" stroke-linejoin="round" stroke-linecap="round"/>
<path d="M1249.00,155.80 C1253.00,156.67 1265.00,159.40 1273.00,161.00 C1281.00,162.60 1291.67,164.57 1297.00,165.40 C1302.33,166.23 1303.67,165.90 1305.00,166.00" fill="none" stroke="#da2f27" stroke-width="4.0" stroke-linejoin="round" stroke-linecap="round"/>
<polygon points="650.2,290.1 651.5,289.8 652.8,290.0 654.1,290.1 655.4,290.2 656.7,290.6 658.0,290.5 659.3,290.4 660.6,290.2 661.9,290.5 663.2,289.7 664.5,290.1 665.8,289.9 667.1,289.8 668.4,290.4 669.7,289.8 671.0,289.7 672.3,290.4 673.6,290.5 674.9,289.9 676.2,289.8 677.5,289.9 678.8,290.2 680.1,290.1 681.4,290.5 682.7,290.4 684.0,290.2 685.3,289.9 686.6,290.5 687.9,289.8 689.2,290.6 690.5,289.7 691.8,290.4 693.1,289.9 694.4,289.9 695.7,289.7 697.0,290.2 698.3,290.0 699.6,290.3 700.9,289.9 702.2,290.5 703.5,289.8 704.8,290.1 706.1,290.5 707.4,289.8 708.7,290.3 710.0,290.5 711.3,290.4 712.6,290.6 713.9,290.3 715.2,290.0 716.5,289.7 717.8,290.0 719.1,289.8 720.4,289.9 721.7,290.0 723.0,290.3 724.3,290.4 725.6,290.5 726.9,290.1 728.2,290.4 729.5,289.9 730.8,290.3 732.1,290.1 733.4,290.1 734.7,290.0 736.0,290.5 737.3,290.4 738.6,290.0 739.9,290.4 741.2,290.0 742.5,289.7 743.8,290.2 745.1,289.7 746.4,290.0 747.7,289.8 749.0,290.1 750.3,289.9 751.6,290.0 752.9,290.4 754.2,290.1 755.5,290.1 756.8,290.2 758.1,290.0 759.4,289.8 760.7,289.9 762.0,289.9 763.3,290.5 764.6,290.0 765.9,290.0 767.2,289.8 768.5,290.6 769.8,290.4 771.1,289.7 772.4,290.3 773.7,290.0 775.0,290.1 776.3,290.2 777.6,290.2 778.9,290.1 780.2,289.7 781.5,290.1 782.8,289.9 784.1,290.3 785.4,290.0 786.7,290.1 788.0,289.9 789.3,289.8 790.6,290.5 791.9,289.7 793.2,290.1 794.5,290.4 795.8,290.2 797.1,290.5 798.4,290.4 799.7,289.8 801.0,290.0 802.3,289.8 803.6,290.5 804.9,290.5 806.2,290.3 807.5,290.2 808.8,290.0 810.1,290.3 811.4,289.9 812.7,290.1 814.0,290.3 815.3,289.9 816.6,290.5 817.9,290.1 819.2,290.4 820.5,290.6 821.8,290.2 823.1,290.1 824.4,290.0 825.7,290.3 827.0,289.8 828.3,289.9 829.6,290.5 830.9,290.6 832.2,289.7 833.5,290.2 834.8,290.5 836.1,290.4 837.4,290.0 838.7,290.4 840.0,290.3 841.3,290.0 842.6,290.3 843.9,290.0 845.2,289.7 846.5,289.9 847.8,290.0 849.1,290.0 850.4,290.3 851.7,290.0 853.0,290.0 854.3,290.1 855.6,290.2 856.9,289.9 858.2,290.4 859.5,290.0 860.8,289.7 862.1,290.6 863.4,290.4 864.7,289.7 866.0,290.5 867.3,289.9 868.6,290.1 869.9,290.5 871.2,290.0 872.5,290.6 872.5,298.3 871.2,298.2 869.9,298.7 868.6,299.5 867.3,299.1 866.0,300.1 864.7,300.1 863.4,299.9 862.1,299.9 860.8,300.1 859.5,300.2 858.2,299.8 856.9,299.8 855.6,299.9 854.3,299.8 853.0,300.1 851.7,299.9 850.4,299.9 849.1,300.3 847.8,300.5 846.5,300.5 845.2,300.1 843.9,300.1 842.6,300.5 841.3,299.9 840.0,299.9 838.7,299.8 837.4,300.0 836.1,300.1 834.8,300.6 833.5,300.0 832.2,300.4 830.9,300.1 829.6,300.3 828.3,300.2 827.0,300.1 825.7,299.9 824.4,300.5 823.1,300.5 821.8,300.2 820.5,300.3 819.2,300.7 817.9,300.5 816.6,300.1 815.3,300.5 814.0,300.1 812.7,300.6 811.4,300.0 810.1,300.1 808.8,300.8 807.5,300.3 806.2,300.3 804.9,300.8 803.6,300.5 802.3,300.1 801.0,300.2 799.7,300.2 798.4,301.0 797.1,300.4 795.8,300.7 794.5,300.9 793.2,300.6 791.9,300.3 790.6,301.0 789.3,300.5 788.0,300.5 786.7,300.4 785.4,300.7 784.1,300.6 782.8,300.8 781.5,300.4 780.2,300.4 778.9,300.7 777.6,300.5 776.3,301.2 775.0,300.6 773.7,301.2 772.4,300.6 771.1,301.1 769.8,300.7 768.5,300.6 767.2,300.7 765.9,301.1 764.6,300.9 763.3,301.3 762.0,300.6 760.7,300.8 759.4,301.3 758.1,300.5 756.8,300.5 755.5,300.6 754.2,300.5 752.9,300.5 751.6,300.4 750.3,299.9 749.0,300.3 747.7,300.3 746.4,300.2 745.1,300.2 743.8,299.6 742.5,299.8 741.2,299.3 739.9,299.2 738.6,299.6 737.3,299.1 736.0,298.6 734.7,299.3 733.4,299.1 732.1,298.4 730.8,298.7 729.5,299.0 728.2,298.3 726.9,298.8 725.6,298.8 724.3,298.9 723.0,298.3 721.7,298.1 720.4,298.8 719.1,297.9 717.8,298.3 716.5,298.5 715.2,298.2 713.9,297.7 712.6,297.7 711.3,298.3 710.0,297.7 708.7,297.9 707.4,298.1 706.1,298.0 704.8,297.4 703.5,297.5 702.2,297.5 700.9,297.5 699.6,297.6 698.3,297.5 697.0,297.1 695.7,297.8 694.4,297.2 693.1,297.1 691.8,297.3 690.5,297.4 689.2,297.7 687.9,297.0 686.6,297.2 685.3,297.3 684.0,297.7 682.7,297.7 681.4,297.2 680.1,297.7 678.8,297.1 677.5,297.1 676.2,297.7 674.9,297.3 673.6,297.2 672.3,297.7 671.0,297.3 669.7,297.4 668.4,297.3 667.1,297.2 665.8,297.1 664.5,297.6 663.2,297.0 661.9,296.9 660.6,296.9 659.3,297.5 658.0,297.0 656.7,297.2 655.4,296.9 654.1,297.6 652.8,297.6 651.5,297.1 650.2,297.6" fill="#141414"/>
<path d="M661.00,297.60 C661.80,299.73 664.20,305.85 665.80,310.40 C667.40,314.95 669.00,321.42 670.60,324.90 C672.20,328.38 673.93,329.98 675.40,331.30 C676.87,332.62 677.80,333.02 679.40,332.80 C681.00,332.58 682.98,331.38 685.00,330.00 C687.02,328.62 689.08,326.63 691.50,324.50 C693.92,322.37 696.57,319.62 699.50,317.20 C702.43,314.78 705.50,312.03 709.10,310.00 C712.70,307.97 717.10,306.47 721.10,305.00 C725.10,303.53 729.12,302.20 733.10,301.20 C737.08,300.20 743.02,299.37 745.00,299.00" fill="none" stroke="#141414" stroke-width="3.0" stroke-linejoin="round" stroke-linecap="round"/>
<path d="M665.00,299.20 C665.93,300.40 668.60,303.60 670.60,306.40 C672.60,309.20 674.85,313.67 677.00,316.00 C679.15,318.33 681.62,319.53 683.50,320.40 C685.38,321.27 686.97,321.20 688.30,321.20 C689.63,321.20 690.97,320.53 691.50,320.40" fill="none" stroke="#141414" stroke-width="3.2" stroke-linejoin="round" stroke-linecap="round"/>
<path d="M668.20,298.40 C670.33,299.20 676.85,302.03 681.00,303.20 C685.15,304.37 689.75,304.77 693.10,305.40 C696.45,306.03 698.70,306.65 701.10,307.00 C703.50,307.35 706.43,307.42 707.50,307.50" fill="none" stroke="#141414" stroke-width="3.2" stroke-linejoin="round" stroke-linecap="round"/>
<path d="M700.00,316.00 C702.00,314.67 707.83,310.17 712.00,308.00 C716.17,305.83 722.83,303.83 725.00,303.00" fill="none" stroke="#141414" stroke-width="4.5" stroke-linejoin="round" stroke-linecap="round"/>
<polygon points="915.2,289.9 916.5,290.3 917.8,290.6 919.1,290.2 920.4,290.2 921.7,290.3 923.0,290.5 924.3,290.1 925.6,290.4 926.9,289.9 928.2,290.1 929.5,290.3 930.8,289.9 932.1,290.2 933.4,290.5 934.7,290.3 936.0,290.6 937.3,290.2 938.6,289.8 939.9,289.8 941.2,290.0 942.5,290.5 943.8,290.4 945.1,290.4 946.4,290.3 947.7,290.0 949.0,290.6 950.3,290.2 951.6,290.2 952.9,290.0 954.2,289.9 955.5,290.2 956.8,290.1 958.1,290.4 959.4,290.2 960.7,290.0 962.0,290.6 963.3,290.1 964.6,290.1 965.9,290.4 967.2,290.4 968.5,289.9 969.8,290.3 971.1,290.4 972.4,290.3 973.7,290.1 975.0,290.2 976.3,290.3 977.6,290.3 978.9,290.4 980.2,290.1 981.5,290.1 982.8,290.5 984.1,290.1 985.4,290.3 986.7,289.7 988.0,289.8 989.3,290.5 990.6,290.0 991.9,290.3 993.2,290.5 994.5,289.8 995.8,289.8 997.1,289.9 998.4,290.0 999.7,289.7 1001.0,290.1 1002.3,290.0 1003.6,290.0 1004.9,289.8 1006.2,289.8 1007.5,290.3 1008.8,290.4 1010.1,290.1 1011.4,290.1 1012.7,290.3 1014.0,289.8 1015.3,289.8 1016.6,290.0 1017.9,290.1 1019.2,290.0 1020.5,290.4 1021.8,289.9 1023.1,290.5 1024.4,289.8 1025.7,290.0 1027.0,290.4 1028.3,290.4 1029.6,290.1 1030.9,290.2 1032.2,290.0 1033.5,290.5 1034.8,289.8 1036.1,290.2 1037.4,290.2 1038.7,289.9 1040.0,290.1 1041.3,290.2 1042.6,290.3 1043.9,290.2 1045.2,290.6 1046.5,290.4 1047.8,289.9 1049.1,290.5 1050.4,290.5 1051.7,289.8 1053.0,290.3 1054.3,290.1 1055.6,290.1 1056.9,290.0 1058.2,290.3 1059.5,289.9 1060.8,290.6 1062.1,289.8 1063.4,290.3 1064.7,290.0 1066.0,290.3 1067.3,289.9 1068.6,290.3 1069.9,290.1 1071.2,290.3 1072.5,289.9 1073.8,289.9 1075.1,290.4 1076.4,289.9 1077.7,289.8 1079.0,290.4 1080.3,290.4 1081.6,289.8 1082.9,289.7 1084.2,290.5 1085.5,289.9 1086.8,289.8 1088.1,290.4 1089.4,289.9 1090.7,290.3 1092.0,289.9 1093.3,290.1 1094.6,290.2 1095.9,290.5 1097.2,290.0 1098.5,290.0 1099.8,290.3 1101.1,290.6 1102.4,290.5 1103.7,290.4 1105.0,289.7 1106.3,289.9 1107.6,289.8 1108.9,289.9 1110.2,290.5 1111.5,290.3 1112.8,289.7 1114.1,289.8 1115.4,289.7 1116.7,289.9 1118.0,290.0 1119.3,289.9 1120.6,289.8 1121.9,290.2 1123.2,290.6 1124.5,290.3 1125.8,290.6 1127.1,290.4 1128.4,290.1 1129.7,290.4 1131.0,290.4 1132.3,290.5 1133.6,290.3 1134.9,290.1 1136.2,290.1 1137.5,289.8 1137.5,298.0 1136.2,298.9 1134.9,299.4 1133.6,299.3 1132.3,299.3 1131.0,300.3 1129.7,300.9 1128.4,300.6 1127.1,300.5 1125.8,300.3 1124.5,300.8 1123.2,300.3 1121.9,300.4 1120.6,300.8 1119.3,300.3 1118.0,300.9 1116.7,300.2 1115.4,300.5 1114.1,300.1 1112.8,300.4 1111.5,300.1 1110.2,300.6 1108.9,300.1 1107.6,300.5 1106.3,300.5 1105.0,300.2 1103.7,300.2 1102.4,300.1 1101.1,300.5 1099.8,300.5 1098.5,300.8 1097.2,300.7 1095.9,300.9 1094.6,300.5 1093.3,300.4 1092.0,300.9 1090.7,300.3 1089.4,300.2 1088.1,300.6 1086.8,300.9 1085.5,300.6 1084.2,300.8 1082.9,300.9 1081.6,300.7 1080.3,300.8 1079.0,300.7 1077.7,300.1 1076.4,300.8 1075.1,300.9 1073.8,300.7 1072.5,300.4 1071.2,300.8 1069.9,300.3 1068.6,300.2 1067.3,300.2 1066.0,301.0 1064.7,300.6 1063.4,300.4 1062.1,300.9 1060.8,301.0 1059.5,300.8 1058.2,300.6 1056.9,300.3 1055.6,300.8 1054.3,300.7 1053.0,301.0 1051.7,300.5 1050.4,300.7 1049.1,300.3 1047.8,300.2 1046.5,300.7 1045.2,301.0 1043.9,300.9 1042.6,300.4 1041.3,300.9 1040.0,300.9 1038.7,300.9 1037.4,300.7 1036.1,300.7 1034.8,300.9 1033.5,301.1 1032.2,301.0 1030.9,300.4 1029.6,300.5 1028.3,301.0 1027.0,301.3 1025.7,300.9 1024.4,301.5 1023.1,300.8 1021.8,301.6 1020.5,301.4 1019.2,301.1 1017.9,301.4 1016.6,301.7 1015.3,301.7 1014.0,301.9 1012.7,302.1 1011.4,302.4 1010.1,301.8 1008.8,302.1 1007.5,302.4 1006.2,302.4 1004.9,302.4 1003.6,302.9 1002.3,302.5 1001.0,302.8 999.7,302.9 998.4,302.5 997.1,302.9 995.8,302.4 994.5,302.5 993.2,302.2 991.9,302.1 990.6,302.7 989.3,302.5 988.0,301.5 986.7,301.3 985.4,301.1 984.1,301.1 982.8,300.4 981.5,300.5 980.2,300.1 978.9,299.4 977.6,299.5 976.3,299.2 975.0,298.7 973.7,298.2 972.4,298.3 971.1,298.5 969.8,298.7 968.5,298.5 967.2,298.1 965.9,298.8 964.6,298.4 963.3,297.9 962.0,298.3 960.7,298.3 959.4,298.4 958.1,298.6 956.8,298.4 955.5,297.8 954.2,297.7 952.9,298.2 951.6,298.5 950.3,298.5 949.0,297.9 947.7,298.4 946.4,298.2 945.1,298.4 943.8,298.1 942.5,297.9 941.2,298.1 939.9,297.9 938.6,297.7 937.3,297.9 936.0,298.1 934.7,297.7 933.4,297.7 932.1,297.7 930.8,298.1 929.5,297.8 928.2,297.9 926.9,297.7 925.6,298.2 924.3,297.3 923.0,298.0 921.7,297.9 920.4,297.8 919.1,298.1 917.8,297.3 916.5,297.4 915.2,297.3" fill="#141414"/>
<path d="M925.20,298.40 C926.00,301.07 928.27,309.98 930.00,314.40 C931.73,318.82 933.73,321.55 935.60,324.90 C937.47,328.25 939.60,332.45 941.20,334.50 C942.80,336.55 943.73,338.03 945.20,337.20 C946.67,336.37 947.85,332.12 950.00,329.50 C952.15,326.88 955.42,324.18 958.10,321.50 C960.78,318.82 963.43,315.55 966.10,313.40 C968.77,311.25 971.43,309.93 974.10,308.60 C976.77,307.27 979.43,306.33 982.10,305.40 C984.77,304.47 988.77,303.40 990.10,303.00" fill="none" stroke="#141414" stroke-width="2.8" stroke-linejoin="round" stroke-linecap="round"/>
<path d="M928.40,299.20 C929.33,300.53 932.00,304.67 934.00,307.20 C936.00,309.73 938.27,312.30 940.40,314.40 C942.53,316.50 944.92,318.83 946.80,319.80 C948.68,320.77 949.82,320.72 951.70,320.20 C953.58,319.68 955.70,318.23 958.10,316.70 C960.50,315.17 963.78,312.62 966.10,311.00 C968.42,309.38 971.02,307.67 972.00,307.00" fill="none" stroke="#141414" stroke-width="3.4" stroke-linejoin="round" stroke-linecap="round"/>
<path d="M934.00,299.20 C935.33,299.70 938.65,301.37 942.00,302.20 C945.35,303.03 950.08,303.67 954.10,304.20 C958.12,304.73 963.03,305.33 966.10,305.40 C969.17,305.47 971.43,304.73 972.50,304.60" fill="none" stroke="#141414" stroke-width="3.0" stroke-linejoin="round" stroke-linecap="round"/>
<polygon points="1219.3,291.3 1220.6,291.1 1221.9,290.6 1223.2,291.2 1224.5,290.5 1225.8,291.1 1227.1,290.7 1228.4,290.7 1229.7,291.2 1231.0,290.9 1232.3,290.8 1233.6,291.1 1234.9,290.9 1236.2,290.8 1237.5,290.4 1238.8,291.1 1240.1,291.2 1241.4,290.9 1242.7,290.8 1244.0,290.9 1245.3,290.5 1246.6,291.2 1247.9,290.9 1249.2,290.9 1250.5,291.2 1251.8,290.9 1253.1,290.9 1254.4,291.0 1255.7,290.6 1257.0,290.4 1258.3,290.4 1259.6,291.2 1260.9,291.0 1262.2,290.5 1263.5,291.3 1264.8,291.3 1266.1,291.3 1267.4,290.4 1268.7,290.9 1270.0,291.0 1271.3,291.3 1272.6,290.5 1273.9,290.4 1275.2,290.7 1276.5,290.5 1277.8,290.8 1279.1,291.1 1280.4,291.2 1281.7,291.1 1283.0,291.3 1284.3,291.0 1285.6,291.4 1286.9,291.4 1288.2,290.5 1289.5,290.6 1290.8,290.6 1292.1,291.0 1293.4,290.9 1294.7,290.9 1296.0,290.6 1297.3,291.1 1298.6,290.9 1299.9,290.9 1301.2,290.6 1302.5,291.1 1303.8,291.4 1305.1,291.0 1306.4,290.5 1307.7,291.2 1309.0,290.8 1310.3,291.3 1311.6,291.1 1312.9,290.8 1314.2,291.3 1315.5,290.9 1316.8,290.8 1318.1,291.0 1319.4,290.6 1320.7,290.6 1322.0,291.1 1323.3,290.6 1324.6,290.6 1325.9,290.8 1327.2,290.8 1328.5,290.8 1329.8,290.7 1331.1,290.7 1332.4,291.1 1333.7,290.7 1335.0,290.7 1336.3,290.9 1337.6,290.5 1338.9,291.1 1340.2,290.8 1341.5,290.8 1342.8,290.8 1344.1,291.2 1345.4,290.7 1346.7,291.3 1348.0,290.9 1349.3,290.9 1350.6,290.7 1351.9,290.5 1353.2,290.4 1354.5,291.2 1355.8,290.5 1357.1,290.9 1358.4,290.9 1359.7,291.4 1361.0,290.5 1362.3,291.2 1363.6,291.1 1364.9,291.1 1366.2,291.2 1367.5,291.1 1368.8,291.1 1370.1,290.9 1371.4,291.0 1372.7,290.6 1374.0,290.5 1375.3,290.5 1376.6,291.0 1377.9,290.7 1379.2,290.7 1380.5,290.7 1381.8,291.0 1383.1,291.2 1384.4,290.6 1385.7,290.7 1387.0,291.0 1388.3,290.7 1389.6,291.3 1390.9,290.6 1392.2,290.5 1393.5,290.4 1394.8,291.3 1396.1,290.7 1397.4,290.6 1398.7,291.3 1400.0,290.8 1401.3,291.2 1402.6,291.2 1403.9,291.4 1405.2,291.1 1406.5,290.6 1407.8,290.8 1409.1,290.6 1410.4,290.4 1411.7,291.2 1413.0,290.6 1414.3,290.5 1415.6,290.8 1416.9,291.1 1418.2,291.2 1419.5,291.0 1420.8,291.0 1422.1,291.1 1423.4,290.7 1424.7,290.8 1426.0,291.1 1427.3,291.2 1428.6,290.9 1429.9,290.7 1431.2,290.7 1432.5,290.8 1433.8,290.5 1435.1,290.6 1436.4,291.0 1437.7,290.7 1439.0,290.7 1440.3,291.1 1441.6,291.2 1441.6,300.3 1440.3,300.1 1439.0,299.8 1437.7,300.0 1436.4,300.2 1435.1,300.5 1433.8,299.7 1432.5,300.1 1431.2,300.2 1429.9,300.5 1428.6,300.6 1427.3,300.1 1426.0,300.0 1424.7,300.0 1423.4,300.4 1422.1,300.3 1420.8,300.5 1419.5,300.0 1418.2,300.3 1416.9,299.9 1415.6,300.0 1414.3,300.4 1413.0,299.9 1411.7,299.8 1410.4,299.9 1409.1,299.8 1407.8,300.5 1406.5,300.1 1405.2,300.5 1403.9,300.0 1402.6,299.8 1401.3,299.6 1400.0,300.0 1398.7,300.3 1397.4,300.4 1396.1,299.7 1394.8,300.2 1393.5,300.0 1392.2,300.5 1390.9,300.5 1389.6,300.6 1388.3,300.3 1387.0,299.6 1385.7,300.4 1384.4,300.3 1383.1,300.0 1381.8,300.3 1380.5,300.4 1379.2,299.6 1377.9,299.6 1376.6,300.0 1375.3,300.4 1374.0,300.4 1372.7,299.7 1371.4,299.7 1370.1,300.4 1368.8,300.3 1367.5,300.1 1366.2,300.5 1364.9,299.8 1363.6,300.3 1362.3,299.7 1361.0,300.6 1359.7,300.3 1358.4,300.5 1357.1,300.2 1355.8,299.7 1354.5,300.1 1353.2,299.9 1351.9,299.7 1350.6,299.9 1349.3,299.8 1348.0,299.8 1346.7,300.0 1345.4,299.6 1344.1,300.0 1342.8,299.6 1341.5,300.2 1340.2,300.3 1338.9,300.6 1337.6,299.8 1336.3,300.3 1335.0,300.1 1333.7,300.4 1332.4,300.0 1331.1,299.7 1329.8,300.2 1328.5,300.2 1327.2,299.8 1325.9,300.3 1324.6,300.4 1323.3,299.7 1322.0,300.1 1320.7,299.8 1319.4,299.8 1318.1,300.3 1316.8,300.3 1315.5,299.9 1314.2,299.9 1312.9,300.3 1311.6,300.5 1310.3,300.2 1309.0,300.1 1307.7,300.5 1306.4,299.7 1305.1,299.8 1303.8,300.6 1302.5,299.7 1301.2,299.9 1299.9,300.1 1298.6,300.1 1297.3,300.5 1296.0,300.2 1294.7,300.5 1293.4,299.8 1292.1,300.3 1290.8,299.7 1289.5,299.9 1288.2,300.3 1286.9,300.0 1285.6,299.7 1284.3,300.2 1283.0,299.8 1281.7,300.1 1280.4,299.8 1279.1,299.9 1277.8,300.4 1276.5,300.5 1275.2,300.2 1273.9,300.2 1272.6,300.4 1271.3,300.0 1270.0,299.6 1268.7,299.8 1267.4,299.7 1266.1,300.3 1264.8,300.1 1263.5,300.2 1262.2,300.0 1260.9,300.1 1259.6,300.4 1258.3,300.2 1257.0,300.2 1255.7,299.9 1254.4,300.3 1253.1,300.0 1251.8,299.9 1250.5,300.0 1249.2,300.4 1247.9,300.0 1246.6,300.4 1245.3,300.6 1244.0,300.4 1242.7,300.5 1241.4,299.7 1240.1,299.9 1238.8,299.8 1237.5,300.6 1236.2,300.6 1234.9,299.8 1233.6,300.6 1232.3,299.7 1231.0,300.5 1229.7,300.4 1228.4,300.0 1227.1,300.2 1225.8,299.7 1224.5,300.1 1223.2,299.9 1221.9,300.4 1220.6,300.3 1219.3,300.0" fill="#141414"/>
<line x1="61.70" y1="571.70" x2="543.40" y2="571.70" stroke="#111" stroke-width="2.7"/>
<line x1="62.50" y1="560.70" x2="62.50" y2="582.70" stroke="#111" stroke-width="2.7"/>
<line x1="126.60" y1="560.70" x2="126.60" y2="582.70" stroke="#111" stroke-width="2.7"/>
<line x1="190.70" y1="560.70" x2="190.70" y2="582.70" stroke="#111" stroke-width="2.7"/>
<line x1="254.80" y1="560.70" x2="254.80" y2="582.70" stroke="#111" stroke-width="2.7"/>
<line x1="318.90" y1="560.70" x2="318.90" y2="582.70" stroke="#111" stroke-width="2.7"/>
<line x1="383.00" y1="560.70" x2="383.00" y2="582.70" stroke="#111" stroke-width="2.7"/>
<line x1="447.10" y1="560.70" x2="447.10" y2="582.70" stroke="#111" stroke-width="2.7"/>
<line x1="511.20" y1="560.70" x2="511.20" y2="582.70" stroke="#111" stroke-width="2.7"/>
<line x1="383.00" y1="543.10" x2="383.00" y2="863.70" stroke="#111" stroke-width="2.8"/>
<line x1="371.50" y1="717.60" x2="383.00" y2="717.60" stroke="#111" stroke-width="2.8"/>
<line x1="371.50" y1="862.40" x2="384.30" y2="862.40" stroke="#111" stroke-width="2.8"/>
<line x1="206.72" y1="596.40" x2="206.72" y2="599.40" stroke="#111" stroke-width="2.3"/>
<line x1="206.72" y1="617.40" x2="206.72" y2="620.40" stroke="#111" stroke-width="2.3"/>
<line x1="222.75" y1="666.20" x2="222.75" y2="681.20" stroke="#111" stroke-width="2.3"/>
<line x1="222.75" y1="699.20" x2="222.75" y2="714.20" stroke="#111" stroke-width="2.3"/>
<line x1="238.78" y1="703.20" x2="238.78" y2="710.20" stroke="#111" stroke-width="2.3"/>
<line x1="238.78" y1="728.20" x2="238.78" y2="735.20" stroke="#111" stroke-width="2.3"/>
<line x1="254.80" y1="699.90" x2="254.80" y2="706.90" stroke="#111" stroke-width="2.3"/>
<line x1="254.80" y1="724.90" x2="254.80" y2="731.90" stroke="#111" stroke-width="2.3"/>
<line x1="270.82" y1="692.50" x2="270.82" y2="696.00" stroke="#111" stroke-width="2.3"/>
<line x1="270.82" y1="714.00" x2="270.82" y2="717.50" stroke="#111" stroke-width="2.3"/>
<line x1="286.85" y1="668.40" x2="286.85" y2="674.40" stroke="#111" stroke-width="2.3"/>
<line x1="286.85" y1="692.40" x2="286.85" y2="698.40" stroke="#111" stroke-width="2.3"/>
<line x1="302.88" y1="650.00" x2="302.88" y2="653.00" stroke="#111" stroke-width="2.3"/>
<line x1="302.88" y1="671.00" x2="302.88" y2="674.00" stroke="#111" stroke-width="2.3"/>
<line x1="318.90" y1="625.80" x2="318.90" y2="627.80" stroke="#111" stroke-width="2.3"/>
<line x1="318.90" y1="645.80" x2="318.90" y2="647.80" stroke="#111" stroke-width="2.3"/>
<polyline points="94.55,573.00 110.57,572.00 126.60,574.00 142.62,575.00 158.65,573.40 174.67,579.20 190.70,585.50 206.72,608.40 222.75,690.20 238.78,719.20 254.80,715.90 270.82,705.00 286.85,683.40 302.88,662.00 318.90,636.80 334.93,617.60 350.95,615.20 366.98,601.50 383.00,595.50 399.02,588.70 415.05,568.40 431.07,570.70 447.10,566.00" fill="none" stroke="#111" stroke-width="2.0" stroke-linejoin="round"/>
<circle cx="94.55" cy="573.00" r="9.5" fill="#4955a7" stroke="#111" stroke-width="2.3"/>
<circle cx="110.57" cy="572.00" r="9.5" fill="#4955a7" stroke="#111" stroke-width="2.3"/>
<circle cx="126.60" cy="574.00" r="9.5" fill="#4955a7" stroke="#111" stroke-width="2.3"/>
<circle cx="142.62" cy="575.00" r="9.5" fill="#4955a7" stroke="#111" stroke-width="2.3"/>
<circle cx="158.65" cy="573.40" r="9.5" fill="#4955a7" stroke="#111" stroke-width="2.3"/>
<circle cx="174.67" cy="579.20" r="9.5" fill="#4955a7" stroke="#111" stroke-width="2.3"/>
<circle cx="190.70" cy="585.50" r="9.5" fill="#4955a7" stroke="#111" stroke-width="2.3"/>
<circle cx="206.72" cy="608.40" r="9.5" fill="#4955a7" stroke="#111" stroke-width="2.3"/>
<circle cx="222.75" cy="690.20" r="9.5" fill="#4955a7" stroke="#111" stroke-width="2.3"/>
<circle cx="238.78" cy="719.20" r="9.5" fill="#4955a7" stroke="#111" stroke-width="2.3"/>
<circle cx="254.80" cy="715.90" r="9.5" fill="#4955a7" stroke="#111" stroke-width="2.3"/>
<circle cx="270.82" cy="705.00" r="9.5" fill="#4955a7" stroke="#111" stroke-width="2.3"/>
<circle cx="286.85" cy="683.40" r="9.5" fill="#4955a7" stroke="#111" stroke-width="2.3"/>
<circle cx="302.88" cy="662.00" r="9.5" fill="#4955a7" stroke="#111" stroke-width="2.3"/>
<circle cx="318.90" cy="636.80" r="9.5" fill="#4955a7" stroke="#111" stroke-width="2.3"/>
<circle cx="334.93" cy="617.60" r="9.5" fill="#4955a7" stroke="#111" stroke-width="2.3"/>
<circle cx="350.95" cy="615.20" r="9.5" fill="#4955a7" stroke="#111" stroke-width="2.3"/>
<circle cx="366.98" cy="601.50" r="9.5" fill="#4955a7" stroke="#111" stroke-width="2.3"/>
<circle cx="383.00" cy="595.50" r="9.5" fill="#4955a7" stroke="#111" stroke-width="2.3"/>
<circle cx="399.02" cy="588.70" r="9.5" fill="#4955a7" stroke="#111" stroke-width="2.3"/>
<circle cx="415.05" cy="568.40" r="9.5" fill="#4955a7" stroke="#111" stroke-width="2.3"/>
<circle cx="431.07" cy="570.70" r="9.5" fill="#4955a7" stroke="#111" stroke-width="2.3"/>
<circle cx="447.10" cy="566.00" r="9.5" fill="#4955a7" stroke="#111" stroke-width="2.3"/>
<line x1="222.75" y1="581.70" x2="222.75" y2="584.70" stroke="#111" stroke-width="2.3"/>
<line x1="222.75" y1="602.70" x2="222.75" y2="605.70" stroke="#111" stroke-width="2.3"/>
<line x1="238.78" y1="601.10" x2="238.78" y2="606.10" stroke="#111" stroke-width="2.3"/>
<line x1="238.78" y1="624.10" x2="238.78" y2="629.10" stroke="#111" stroke-width="2.3"/>
<line x1="254.80" y1="615.50" x2="254.80" y2="624.50" stroke="#111" stroke-width="2.3"/>
<line x1="254.80" y1="642.50" x2="254.80" y2="651.50" stroke="#111" stroke-width="2.3"/>
<line x1="270.82" y1="605.10" x2="270.82" y2="609.40" stroke="#111" stroke-width="2.3"/>
<line x1="270.82" y1="627.40" x2="270.82" y2="631.70" stroke="#111" stroke-width="2.3"/>
<line x1="286.85" y1="592.30" x2="286.85" y2="595.30" stroke="#111" stroke-width="2.3"/>
<line x1="286.85" y1="613.30" x2="286.85" y2="616.30" stroke="#111" stroke-width="2.3"/>
<line x1="302.88" y1="583.90" x2="302.88" y2="584.90" stroke="#111" stroke-width="2.3"/>
<line x1="302.88" y1="602.90" x2="302.88" y2="603.90" stroke="#111" stroke-width="2.3"/>
<polyline points="94.55,572.00 110.57,570.00 126.60,569.00 142.62,568.40 158.65,567.50 174.67,570.00 190.70,574.20 206.72,578.40 222.75,593.70 238.78,615.10 254.80,633.50 270.82,618.40 286.85,604.30 302.88,593.90 318.90,595.90 334.93,591.20 350.95,589.50 366.98,584.70 383.00,575.20 399.02,570.70 415.05,566.10 431.07,567.60 447.10,566.00" fill="none" stroke="#111" stroke-width="2.0" stroke-linejoin="round"/>
<circle cx="94.55" cy="572.00" r="9.5" fill="none" stroke="#111" stroke-width="2.3"/>
<circle cx="110.57" cy="570.00" r="9.5" fill="none" stroke="#111" stroke-width="2.3"/>
<circle cx="126.60" cy="569.00" r="9.5" fill="none" stroke="#111" stroke-width="2.3"/>
<circle cx="142.62" cy="568.40" r="9.5" fill="none" stroke="#111" stroke-width="2.3"/>
<circle cx="158.65" cy="567.50" r="9.5" fill="none" stroke="#111" stroke-width="2.3"/>
<circle cx="174.67" cy="570.00" r="9.5" fill="none" stroke="#111" stroke-width="2.3"/>
<circle cx="190.70" cy="574.20" r="9.5" fill="none" stroke="#111" stroke-width="2.3"/>
<circle cx="206.72" cy="578.40" r="9.5" fill="none" stroke="#111" stroke-width="2.3"/>
<circle cx="222.75" cy="593.70" r="9.5" fill="none" stroke="#111" stroke-width="2.3"/>
<circle cx="238.78" cy="615.10" r="9.5" fill="none" stroke="#111" stroke-width="2.3"/>
<circle cx="254.80" cy="633.50" r="9.5" fill="none" stroke="#111" stroke-width="2.3"/>
<circle cx="270.82" cy="618.40" r="9.5" fill="none" stroke="#111" stroke-width="2.3"/>
<circle cx="286.85" cy="604.30" r="9.5" fill="none" stroke="#111" stroke-width="2.3"/>
<circle cx="302.88" cy="593.90" r="9.5" fill="none" stroke="#111" stroke-width="2.3"/>
<circle cx="318.90" cy="595.90" r="9.5" fill="none" stroke="#111" stroke-width="2.3"/>
<circle cx="334.93" cy="591.20" r="9.5" fill="none" stroke="#111" stroke-width="2.3"/>
<circle cx="350.95" cy="589.50" r="9.5" fill="none" stroke="#111" stroke-width="2.3"/>
<circle cx="366.98" cy="584.70" r="9.5" fill="none" stroke="#111" stroke-width="2.3"/>
<circle cx="383.00" cy="575.20" r="9.5" fill="none" stroke="#111" stroke-width="2.3"/>
<circle cx="399.02" cy="570.70" r="9.5" fill="none" stroke="#111" stroke-width="2.3"/>
<circle cx="415.05" cy="566.10" r="9.5" fill="none" stroke="#111" stroke-width="2.3"/>
<circle cx="431.07" cy="567.60" r="9.5" fill="none" stroke="#111" stroke-width="2.3"/>
<circle cx="447.10" cy="566.00" r="9.5" fill="none" stroke="#111" stroke-width="2.3"/>
<line x1="190.70" y1="591.80" x2="190.70" y2="596.80" stroke="#111" stroke-width="2.3"/>
<line x1="190.70" y1="614.80" x2="190.70" y2="619.80" stroke="#111" stroke-width="2.3"/>
<line x1="206.72" y1="606.00" x2="206.72" y2="617.00" stroke="#111" stroke-width="2.3"/>
<line x1="206.72" y1="635.00" x2="206.72" y2="646.00" stroke="#111" stroke-width="2.3"/>
<line x1="222.75" y1="650.80" x2="222.75" y2="672.80" stroke="#111" stroke-width="2.3"/>
<line x1="222.75" y1="690.80" x2="222.75" y2="712.80" stroke="#111" stroke-width="2.3"/>
<line x1="238.78" y1="751.80" x2="238.78" y2="770.80" stroke="#111" stroke-width="2.3"/>
<line x1="238.78" y1="788.80" x2="238.78" y2="807.80" stroke="#111" stroke-width="2.3"/>
<line x1="254.80" y1="767.30" x2="254.80" y2="785.30" stroke="#111" stroke-width="2.3"/>
<line x1="254.80" y1="803.30" x2="254.80" y2="821.30" stroke="#111" stroke-width="2.3"/>
<line x1="270.82" y1="762.80" x2="270.82" y2="777.80" stroke="#111" stroke-width="2.3"/>
<line x1="270.82" y1="795.80" x2="270.82" y2="810.80" stroke="#111" stroke-width="2.3"/>
<line x1="286.85" y1="738.80" x2="286.85" y2="752.80" stroke="#111" stroke-width="2.3"/>
<line x1="286.85" y1="770.80" x2="286.85" y2="784.80" stroke="#111" stroke-width="2.3"/>
<line x1="302.88" y1="702.60" x2="302.88" y2="713.60" stroke="#111" stroke-width="2.3"/>
<line x1="302.88" y1="731.60" x2="302.88" y2="742.60" stroke="#111" stroke-width="2.3"/>
<line x1="318.90" y1="674.00" x2="318.90" y2="681.00" stroke="#111" stroke-width="2.3"/>
<line x1="318.90" y1="699.00" x2="318.90" y2="706.00" stroke="#111" stroke-width="2.3"/>
<line x1="334.93" y1="653.70" x2="334.93" y2="657.70" stroke="#111" stroke-width="2.3"/>
<line x1="334.93" y1="675.70" x2="334.93" y2="679.70" stroke="#111" stroke-width="2.3"/>
<line x1="350.95" y1="636.00" x2="350.95" y2="637.00" stroke="#111" stroke-width="2.3"/>
<line x1="350.95" y1="655.00" x2="350.95" y2="656.00" stroke="#111" stroke-width="2.3"/>
<polyline points="94.55,572.50 110.57,570.90 126.60,575.40 142.62,578.00 158.65,582.60 174.67,593.40 190.70,605.80 206.72,626.00 222.75,681.80 238.78,779.80 254.80,794.30 270.82,786.80 286.85,761.80 302.88,722.60 318.90,690.00 334.93,666.70 350.95,646.00 366.98,632.30 383.00,610.00 399.02,598.30 415.05,576.20 431.07,580.10 447.10,565.80" fill="none" stroke="#111" stroke-width="2.0" stroke-linejoin="round"/>
<circle cx="94.55" cy="572.50" r="9.5" fill="#dd3325" stroke="#111" stroke-width="2.3"/>
<circle cx="110.57" cy="570.90" r="9.5" fill="#dd3325" stroke="#111" stroke-width="2.3"/>
<circle cx="126.60" cy="575.40" r="9.5" fill="#dd3325" stroke="#111" stroke-width="2.3"/>
<circle cx="142.62" cy="578.00" r="9.5" fill="#dd3325" stroke="#111" stroke-width="2.3"/>
<circle cx="158.65" cy="582.60" r="9.5" fill="#dd3325" stroke="#111" stroke-width="2.3"/>
<circle cx="174.67" cy="593.40" r="9.5" fill="#dd3325" stroke="#111" stroke-width="2.3"/>
<circle cx="190.70" cy="605.80" r="9.5" fill="#dd3325" stroke="#111" stroke-width="2.3"/>
<circle cx="206.72" cy="626.00" r="9.5" fill="#dd3325" stroke="#111" stroke-width="2.3"/>
<circle cx="222.75" cy="681.80" r="9.5" fill="#dd3325" stroke="#111" stroke-width="2.3"/>
<circle cx="238.78" cy="779.80" r="9.5" fill="#dd3325" stroke="#111" stroke-width="2.3"/>
<circle cx="254.80" cy="794.30" r="9.5" fill="#dd3325" stroke="#111" stroke-width="2.3"/>
<circle cx="270.82" cy="786.80" r="9.5" fill="#dd3325" stroke="#111" stroke-width="2.3"/>
<circle cx="286.85" cy="761.80" r="9.5" fill="#dd3325" stroke="#111" stroke-width="2.3"/>
<circle cx="302.88" cy="722.60" r="9.5" fill="#dd3325" stroke="#111" stroke-width="2.3"/>
<circle cx="318.90" cy="690.00" r="9.5" fill="#dd3325" stroke="#111" stroke-width="2.3"/>
<circle cx="334.93" cy="666.70" r="9.5" fill="#dd3325" stroke="#111" stroke-width="2.3"/>
<circle cx="350.95" cy="646.00" r="9.5" fill="#dd3325" stroke="#111" stroke-width="2.3"/>
<circle cx="366.98" cy="632.30" r="9.5" fill="#dd3325" stroke="#111" stroke-width="2.3"/>
<circle cx="383.00" cy="610.00" r="9.5" fill="#dd3325" stroke="#111" stroke-width="2.3"/>
<circle cx="399.02" cy="598.30" r="9.5" fill="#dd3325" stroke="#111" stroke-width="2.3"/>
<circle cx="415.05" cy="576.20" r="9.5" fill="#dd3325" stroke="#111" stroke-width="2.3"/>
<circle cx="431.07" cy="580.10" r="9.5" fill="#dd3325" stroke="#111" stroke-width="2.3"/>
<circle cx="447.10" cy="565.80" r="9.5" fill="#dd3325" stroke="#111" stroke-width="2.3"/>
<line x1="55.20" y1="704.10" x2="91.70" y2="704.10" stroke="#111" stroke-width="2.2"/>
<circle cx="73.60" cy="704.10" r="9.6" fill="#dd3325" stroke="#111" stroke-width="2.3"/>
<line x1="55.20" y1="748.90" x2="91.70" y2="748.90" stroke="#111" stroke-width="2.2"/>
<circle cx="73.60" cy="748.90" r="9.6" fill="none" stroke="#111" stroke-width="2.3"/>
<line x1="55.20" y1="794.00" x2="91.70" y2="794.00" stroke="#111" stroke-width="2.2"/>
<circle cx="73.60" cy="794.00" r="9.6" fill="#4955a7" stroke="#111" stroke-width="2.3"/>
<text transform="translate(249.69,493.80) scale(0.7898,1)" font-size="37.24" font-weight="bold" fill="#111">mV</text>
<text transform="translate(22.56,538.15) scale(0.7880,1)" font-size="37.71" stroke="#111" stroke-width="0.22" fill="#111">-100</text>
<text transform="translate(97.34,538.15) scale(0.7995,1)" font-size="37.71" stroke="#111" stroke-width="0.22" fill="#111">-80</text>
<text transform="translate(163.64,538.15) scale(0.7995,1)" font-size="37.71" stroke="#111" stroke-width="0.22" fill="#111">-60</text>
<text transform="translate(228.52,538.15) scale(0.8151,1)" font-size="37.71" stroke="#111" stroke-width="0.22" fill="#111">-40</text>
<text transform="translate(289.83,538.15) scale(0.8073,1)" font-size="37.71" stroke="#111" stroke-width="0.22" fill="#111">-20</text>
<text transform="translate(372.07,538.15) scale(0.8822,1)" font-size="37.71" stroke="#111" stroke-width="0.22" fill="#111">0</text>
<text transform="translate(426.32,538.15) scale(0.8372,1)" font-size="37.71" stroke="#111" stroke-width="0.22" fill="#111">20</text>
<text transform="translate(492.32,538.15) scale(0.8051,1)" font-size="37.71" stroke="#111" stroke-width="0.22" fill="#111">40</text>
<text transform="translate(335.89,733.45) scale(0.8321,1)" font-size="37.71" stroke="#111" stroke-width="0.22" fill="#111">-5</text>
<text transform="translate(325.31,871.45) scale(0.8171,1)" font-size="37.71" stroke="#111" stroke-width="0.22" fill="#111">-10</text>
<text transform="translate(105.94,712.78) scale(0.8142,1)" font-size="29.90" stroke="#111" stroke-width="0.22" fill="#111">+/+</text>
<rect x="107.20" y="745.70" width="9.7" height="4.2" fill="#111"/>
<rect x="126.20" y="745.70" width="9.7" height="4.2" fill="#111"/>
<line x1="119.10" y1="759.00" x2="123.90" y2="738.00" stroke="#111" stroke-width="1.8"/>
<text transform="translate(102.54,805.90) scale(0.8048,1)" font-size="30.98" stroke="#111" stroke-width="0.22" fill="#111">RH/RH</text>
<text transform="translate(456.50,763.94) rotate(-90) scale(0.8061,1)" font-size="35.17" font-weight="bold" fill="#111">pA/pF</text>
<text transform="translate(499.90,811.03) rotate(-90) scale(0.8214,1)" font-size="37.24" font-weight="bold" fill="#111">(LVA T-type)</text>
<line x1="58.50" y1="1086.60" x2="539.50" y2="1086.60" stroke="#111" stroke-width="2.7"/>
<line x1="58.50" y1="1075.60" x2="58.50" y2="1097.60" stroke="#111" stroke-width="2.7"/>
<line x1="122.60" y1="1075.60" x2="122.60" y2="1097.60" stroke="#111" stroke-width="2.7"/>
<line x1="186.70" y1="1075.60" x2="186.70" y2="1097.60" stroke="#111" stroke-width="2.7"/>
<line x1="250.80" y1="1075.60" x2="250.80" y2="1097.60" stroke="#111" stroke-width="2.7"/>
<line x1="314.90" y1="1075.60" x2="314.90" y2="1097.60" stroke="#111" stroke-width="2.7"/>
<line x1="379.00" y1="1075.60" x2="379.00" y2="1097.60" stroke="#111" stroke-width="2.7"/>
<line x1="443.10" y1="1075.60" x2="443.10" y2="1097.60" stroke="#111" stroke-width="2.7"/>
<line x1="507.20" y1="1075.60" x2="507.20" y2="1097.60" stroke="#111" stroke-width="2.7"/>
<line x1="379.00" y1="1057.90" x2="379.00" y2="1379.10" stroke="#111" stroke-width="2.8"/>
<line x1="367.50" y1="1232.10" x2="379.00" y2="1232.10" stroke="#111" stroke-width="2.8"/>
<line x1="367.50" y1="1377.80" x2="380.30" y2="1377.80" stroke="#111" stroke-width="2.8"/>
<line x1="234.78" y1="1076.70" x2="234.78" y2="1093.70" stroke="#111" stroke-width="2.3"/>
<line x1="234.78" y1="1111.70" x2="234.78" y2="1128.70" stroke="#111" stroke-width="2.3"/>
<line x1="250.80" y1="1134.30" x2="250.80" y2="1155.30" stroke="#111" stroke-width="2.3"/>
<line x1="250.80" y1="1173.30" x2="250.80" y2="1194.30" stroke="#111" stroke-width="2.3"/>
<line x1="266.82" y1="1174.40" x2="266.82" y2="1195.40" stroke="#111" stroke-width="2.3"/>
<line x1="266.82" y1="1213.40" x2="266.82" y2="1234.40" stroke="#111" stroke-width="2.3"/>
<line x1="282.85" y1="1214.30" x2="282.85" y2="1235.30" stroke="#111" stroke-width="2.3"/>
<line x1="282.85" y1="1253.30" x2="282.85" y2="1274.30" stroke="#111" stroke-width="2.3"/>
<line x1="298.88" y1="1242.00" x2="298.88" y2="1263.00" stroke="#111" stroke-width="2.3"/>
<line x1="298.88" y1="1281.00" x2="298.88" y2="1302.00" stroke="#111" stroke-width="2.3"/>
<line x1="314.90" y1="1268.00" x2="314.90" y2="1289.00" stroke="#111" stroke-width="2.3"/>
<line x1="314.90" y1="1307.00" x2="314.90" y2="1328.00" stroke="#111" stroke-width="2.3"/>
<line x1="330.93" y1="1274.00" x2="330.93" y2="1295.00" stroke="#111" stroke-width="2.3"/>
<line x1="330.93" y1="1313.00" x2="330.93" y2="1334.00" stroke="#111" stroke-width="2.3"/>
<line x1="346.95" y1="1273.00" x2="346.95" y2="1292.00" stroke="#111" stroke-width="2.3"/>
<line x1="346.95" y1="1310.00" x2="346.95" y2="1329.00" stroke="#111" stroke-width="2.3"/>
<line x1="362.98" y1="1264.00" x2="362.98" y2="1281.00" stroke="#111" stroke-width="2.3"/>
<line x1="362.98" y1="1299.00" x2="362.98" y2="1316.00" stroke="#111" stroke-width="2.3"/>
<line x1="379.00" y1="1248.00" x2="379.00" y2="1263.00" stroke="#111" stroke-width="2.3"/>
<line x1="379.00" y1="1281.00" x2="379.00" y2="1296.00" stroke="#111" stroke-width="2.3"/>
<line x1="395.02" y1="1227.00" x2="395.02" y2="1238.00" stroke="#111" stroke-width="2.3"/>
<line x1="395.02" y1="1256.00" x2="395.02" y2="1267.00" stroke="#111" stroke-width="2.3"/>
<line x1="411.05" y1="1205.00" x2="411.05" y2="1213.00" stroke="#111" stroke-width="2.3"/>
<line x1="411.05" y1="1231.00" x2="411.05" y2="1239.00" stroke="#111" stroke-width="2.3"/>
<line x1="427.07" y1="1175.00" x2="427.07" y2="1183.00" stroke="#111" stroke-width="2.3"/>
<line x1="427.07" y1="1201.00" x2="427.07" y2="1209.00" stroke="#111" stroke-width="2.3"/>
<line x1="443.10" y1="1150.00" x2="443.10" y2="1156.00" stroke="#111" stroke-width="2.3"/>
<line x1="443.10" y1="1174.00" x2="443.10" y2="1180.00" stroke="#111" stroke-width="2.3"/>
<polyline points="90.55,1086.00 106.57,1085.00 122.60,1085.00 138.62,1085.00 154.65,1085.00 170.67,1084.00 186.70,1084.00 202.72,1085.00 218.75,1089.60 234.78,1102.70 250.80,1164.30 266.82,1204.40 282.85,1244.30 298.88,1272.00 314.90,1298.00 330.93,1304.00 346.95,1301.00 362.98,1290.00 379.00,1272.00 395.02,1247.00 411.05,1222.00 427.07,1192.00 443.10,1165.00" fill="none" stroke="#111" stroke-width="2.0" stroke-linejoin="round"/>
<circle cx="90.55" cy="1086.00" r="9.5" fill="none" stroke="#111" stroke-width="2.3"/>
<circle cx="106.57" cy="1085.00" r="9.5" fill="none" stroke="#111" stroke-width="2.3"/>
<circle cx="122.60" cy="1085.00" r="9.5" fill="none" stroke="#111" stroke-width="2.3"/>
<circle cx="138.62" cy="1085.00" r="9.5" fill="none" stroke="#111" stroke-width="2.3"/>
<circle cx="154.65" cy="1085.00" r="9.5" fill="none" stroke="#111" stroke-width="2.3"/>
<circle cx="170.67" cy="1084.00" r="9.5" fill="none" stroke="#111" stroke-width="2.3"/>
<circle cx="186.70" cy="1084.00" r="9.5" fill="none" stroke="#111" stroke-width="2.3"/>
<circle cx="202.72" cy="1085.00" r="9.5" fill="none" stroke="#111" stroke-width="2.3"/>
<circle cx="218.75" cy="1089.60" r="9.5" fill="none" stroke="#111" stroke-width="2.3"/>
<circle cx="234.78" cy="1102.70" r="9.5" fill="none" stroke="#111" stroke-width="2.3"/>
<circle cx="250.80" cy="1164.30" r="9.5" fill="none" stroke="#111" stroke-width="2.3"/>
<circle cx="266.82" cy="1204.40" r="9.5" fill="none" stroke="#111" stroke-width="2.3"/>
<circle cx="282.85" cy="1244.30" r="9.5" fill="none" stroke="#111" stroke-width="2.3"/>
<circle cx="298.88" cy="1272.00" r="9.5" fill="none" stroke="#111" stroke-width="2.3"/>
<circle cx="314.90" cy="1298.00" r="9.5" fill="none" stroke="#111" stroke-width="2.3"/>
<circle cx="330.93" cy="1304.00" r="9.5" fill="none" stroke="#111" stroke-width="2.3"/>
<circle cx="346.95" cy="1301.00" r="9.5" fill="none" stroke="#111" stroke-width="2.3"/>
<circle cx="362.98" cy="1290.00" r="9.5" fill="none" stroke="#111" stroke-width="2.3"/>
<circle cx="379.00" cy="1272.00" r="9.5" fill="none" stroke="#111" stroke-width="2.3"/>
<circle cx="395.02" cy="1247.00" r="9.5" fill="none" stroke="#111" stroke-width="2.3"/>
<circle cx="411.05" cy="1222.00" r="9.5" fill="none" stroke="#111" stroke-width="2.3"/>
<circle cx="427.07" cy="1192.00" r="9.5" fill="none" stroke="#111" stroke-width="2.3"/>
<circle cx="443.10" cy="1165.00" r="9.5" fill="none" stroke="#111" stroke-width="2.3"/>
<line x1="234.78" y1="1130.30" x2="234.78" y2="1145.30" stroke="#111" stroke-width="2.3"/>
<line x1="234.78" y1="1163.30" x2="234.78" y2="1178.30" stroke="#111" stroke-width="2.3"/>
<line x1="250.80" y1="1176.80" x2="250.80" y2="1194.80" stroke="#111" stroke-width="2.3"/>
<line x1="250.80" y1="1212.80" x2="250.80" y2="1230.80" stroke="#111" stroke-width="2.3"/>
<line x1="266.82" y1="1200.70" x2="266.82" y2="1220.30" stroke="#111" stroke-width="2.3"/>
<line x1="266.82" y1="1238.30" x2="266.82" y2="1257.90" stroke="#111" stroke-width="2.3"/>
<line x1="282.85" y1="1228.00" x2="282.85" y2="1249.00" stroke="#111" stroke-width="2.3"/>
<line x1="282.85" y1="1267.00" x2="282.85" y2="1288.00" stroke="#111" stroke-width="2.3"/>
<line x1="298.88" y1="1246.10" x2="298.88" y2="1268.60" stroke="#111" stroke-width="2.3"/>
<line x1="298.88" y1="1286.60" x2="298.88" y2="1309.10" stroke="#111" stroke-width="2.3"/>
<line x1="314.90" y1="1261.80" x2="314.90" y2="1282.80" stroke="#111" stroke-width="2.3"/>
<line x1="314.90" y1="1300.80" x2="314.90" y2="1321.80" stroke="#111" stroke-width="2.3"/>
<line x1="330.93" y1="1263.50" x2="330.93" y2="1284.50" stroke="#111" stroke-width="2.3"/>
<line x1="330.93" y1="1302.50" x2="330.93" y2="1323.50" stroke="#111" stroke-width="2.3"/>
<line x1="346.95" y1="1262.60" x2="346.95" y2="1281.10" stroke="#111" stroke-width="2.3"/>
<line x1="346.95" y1="1299.10" x2="346.95" y2="1317.60" stroke="#111" stroke-width="2.3"/>
<line x1="362.98" y1="1253.40" x2="362.98" y2="1271.10" stroke="#111" stroke-width="2.3"/>
<line x1="362.98" y1="1289.10" x2="362.98" y2="1306.80" stroke="#111" stroke-width="2.3"/>
<line x1="379.00" y1="1236.10" x2="379.00" y2="1251.10" stroke="#111" stroke-width="2.3"/>
<line x1="379.00" y1="1269.10" x2="379.00" y2="1284.10" stroke="#111" stroke-width="2.3"/>
<line x1="395.02" y1="1214.80" x2="395.02" y2="1225.80" stroke="#111" stroke-width="2.3"/>
<line x1="395.02" y1="1243.80" x2="395.02" y2="1254.80" stroke="#111" stroke-width="2.3"/>
<line x1="411.05" y1="1194.00" x2="411.05" y2="1202.00" stroke="#111" stroke-width="2.3"/>
<line x1="411.05" y1="1220.00" x2="411.05" y2="1228.00" stroke="#111" stroke-width="2.3"/>
<line x1="427.07" y1="1167.80" x2="427.07" y2="1176.50" stroke="#111" stroke-width="2.3"/>
<line x1="427.07" y1="1194.50" x2="427.07" y2="1203.20" stroke="#111" stroke-width="2.3"/>
<line x1="443.10" y1="1146.30" x2="443.10" y2="1152.30" stroke="#111" stroke-width="2.3"/>
<line x1="443.10" y1="1170.30" x2="443.10" y2="1176.30" stroke="#111" stroke-width="2.3"/>
<polyline points="90.55,1086.00 106.57,1085.00 122.60,1085.00 138.62,1085.00 154.65,1085.00 170.67,1084.00 186.70,1083.00 202.72,1082.50 218.75,1100.00 234.78,1154.30 250.80,1203.80 266.82,1229.30 282.85,1258.00 298.88,1277.60 314.90,1291.80 330.93,1293.50 346.95,1290.10 362.98,1280.10 379.00,1260.10 395.02,1234.80 411.05,1211.00 427.07,1185.50 443.10,1161.30" fill="none" stroke="#111" stroke-width="2.0" stroke-linejoin="round"/>
<circle cx="90.55" cy="1086.00" r="9.5" fill="#4955a7" stroke="#111" stroke-width="2.3"/>
<circle cx="106.57" cy="1085.00" r="9.5" fill="#4955a7" stroke="#111" stroke-width="2.3"/>
<circle cx="122.60" cy="1085.00" r="9.5" fill="#4955a7" stroke="#111" stroke-width="2.3"/>
<circle cx="138.62" cy="1085.00" r="9.5" fill="#4955a7" stroke="#111" stroke-width="2.3"/>
<circle cx="154.65" cy="1085.00" r="9.5" fill="#4955a7" stroke="#111" stroke-width="2.3"/>
<circle cx="170.67" cy="1084.00" r="9.5" fill="#4955a7" stroke="#111" stroke-width="2.3"/>
<circle cx="186.70" cy="1083.00" r="9.5" fill="#4955a7" stroke="#111" stroke-width="2.3"/>
<circle cx="202.72" cy="1082.50" r="9.5" fill="#4955a7" stroke="#111" stroke-width="2.3"/>
<circle cx="218.75" cy="1100.00" r="9.5" fill="#4955a7" stroke="#111" stroke-width="2.3"/>
<circle cx="234.78" cy="1154.30" r="9.5" fill="#4955a7" stroke="#111" stroke-width="2.3"/>
<circle cx="250.80" cy="1203.80" r="9.5" fill="#4955a7" stroke="#111" stroke-width="2.3"/>
<circle cx="266.82" cy="1229.30" r="9.5" fill="#4955a7" stroke="#111" stroke-width="2.3"/>
<circle cx="282.85" cy="1258.00" r="9.5" fill="#4955a7" stroke="#111" stroke-width="2.3"/>
<circle cx="298.88" cy="1277.60" r="9.5" fill="#4955a7" stroke="#111" stroke-width="2.3"/>
<circle cx="314.90" cy="1291.80" r="9.5" fill="#4955a7" stroke="#111" stroke-width="2.3"/>
<circle cx="330.93" cy="1293.50" r="9.5" fill="#4955a7" stroke="#111" stroke-width="2.3"/>
<circle cx="346.95" cy="1290.10" r="9.5" fill="#4955a7" stroke="#111" stroke-width="2.3"/>
<circle cx="362.98" cy="1280.10" r="9.5" fill="#4955a7" stroke="#111" stroke-width="2.3"/>
<circle cx="379.00" cy="1260.10" r="9.5" fill="#4955a7" stroke="#111" stroke-width="2.3"/>
<circle cx="395.02" cy="1234.80" r="9.5" fill="#4955a7" stroke="#111" stroke-width="2.3"/>
<circle cx="411.05" cy="1211.00" r="9.5" fill="#4955a7" stroke="#111" stroke-width="2.3"/>
<circle cx="427.07" cy="1185.50" r="9.5" fill="#4955a7" stroke="#111" stroke-width="2.3"/>
<circle cx="443.10" cy="1161.30" r="9.5" fill="#4955a7" stroke="#111" stroke-width="2.3"/>
<line x1="234.78" y1="1116.80" x2="234.78" y2="1137.80" stroke="#111" stroke-width="2.3"/>
<line x1="234.78" y1="1155.80" x2="234.78" y2="1176.80" stroke="#111" stroke-width="2.3"/>
<line x1="250.80" y1="1134.60" x2="250.80" y2="1174.60" stroke="#111" stroke-width="2.3"/>
<line x1="250.80" y1="1192.60" x2="250.80" y2="1232.60" stroke="#111" stroke-width="2.3"/>
<line x1="266.82" y1="1174.00" x2="266.82" y2="1208.00" stroke="#111" stroke-width="2.3"/>
<line x1="266.82" y1="1226.00" x2="266.82" y2="1260.00" stroke="#111" stroke-width="2.3"/>
<line x1="282.85" y1="1220.80" x2="282.85" y2="1247.80" stroke="#111" stroke-width="2.3"/>
<line x1="282.85" y1="1265.80" x2="282.85" y2="1292.80" stroke="#111" stroke-width="2.3"/>
<line x1="298.88" y1="1255.10" x2="298.88" y2="1279.50" stroke="#111" stroke-width="2.3"/>
<line x1="298.88" y1="1297.50" x2="298.88" y2="1321.90" stroke="#111" stroke-width="2.3"/>
<line x1="314.90" y1="1278.40" x2="314.90" y2="1302.80" stroke="#111" stroke-width="2.3"/>
<line x1="314.90" y1="1320.80" x2="314.90" y2="1345.20" stroke="#111" stroke-width="2.3"/>
<line x1="330.93" y1="1289.30" x2="330.93" y2="1312.00" stroke="#111" stroke-width="2.3"/>
<line x1="330.93" y1="1330.00" x2="330.93" y2="1352.70" stroke="#111" stroke-width="2.3"/>
<line x1="346.95" y1="1288.50" x2="346.95" y2="1310.40" stroke="#111" stroke-width="2.3"/>
<line x1="346.95" y1="1328.40" x2="346.95" y2="1350.30" stroke="#111" stroke-width="2.3"/>
<line x1="362.98" y1="1278.70" x2="362.98" y2="1299.20" stroke="#111" stroke-width="2.3"/>
<line x1="362.98" y1="1317.20" x2="362.98" y2="1337.70" stroke="#111" stroke-width="2.3"/>
<line x1="379.00" y1="1263.80" x2="379.00" y2="1280.80" stroke="#111" stroke-width="2.3"/>
<line x1="379.00" y1="1298.80" x2="379.00" y2="1315.80" stroke="#111" stroke-width="2.3"/>
<line x1="395.02" y1="1237.30" x2="395.02" y2="1250.30" stroke="#111" stroke-width="2.3"/>
<line x1="395.02" y1="1268.30" x2="395.02" y2="1281.30" stroke="#111" stroke-width="2.3"/>
<line x1="411.05" y1="1216.80" x2="411.05" y2="1228.80" stroke="#111" stroke-width="2.3"/>
<line x1="411.05" y1="1246.80" x2="411.05" y2="1258.80" stroke="#111" stroke-width="2.3"/>
<line x1="427.07" y1="1179.00" x2="427.07" y2="1191.00" stroke="#111" stroke-width="2.3"/>
<line x1="427.07" y1="1209.00" x2="427.07" y2="1221.00" stroke="#111" stroke-width="2.3"/>
<line x1="443.10" y1="1156.30" x2="443.10" y2="1163.30" stroke="#111" stroke-width="2.3"/>
<line x1="443.10" y1="1181.30" x2="443.10" y2="1188.30" stroke="#111" stroke-width="2.3"/>
<polyline points="90.55,1087.80 106.57,1085.90 122.60,1086.80 138.62,1085.90 154.65,1087.40 170.67,1085.00 186.70,1092.40 202.72,1093.80 218.75,1108.30 234.78,1146.80 250.80,1183.60 266.82,1217.00 282.85,1256.80 298.88,1288.50 314.90,1311.80 330.93,1321.00 346.95,1319.40 362.98,1308.20 379.00,1289.80 395.02,1259.30 411.05,1237.80 427.07,1200.00 443.10,1172.30" fill="none" stroke="#111" stroke-width="2.0" stroke-linejoin="round"/>
<circle cx="90.55" cy="1087.80" r="9.5" fill="#dd3325" stroke="#111" stroke-width="2.3"/>
<circle cx="106.57" cy="1085.90" r="9.5" fill="#dd3325" stroke="#111" stroke-width="2.3"/>
<circle cx="122.60" cy="1086.80" r="9.5" fill="#dd3325" stroke="#111" stroke-width="2.3"/>
<circle cx="138.62" cy="1085.90" r="9.5" fill="#dd3325" stroke="#111" stroke-width="2.3"/>
<circle cx="154.65" cy="1087.40" r="9.5" fill="#dd3325" stroke="#111" stroke-width="2.3"/>
<circle cx="170.67" cy="1085.00" r="9.5" fill="#dd3325" stroke="#111" stroke-width="2.3"/>
<circle cx="186.70" cy="1092.40" r="9.5" fill="#dd3325" stroke="#111" stroke-width="2.3"/>
<circle cx="202.72" cy="1093.80" r="9.5" fill="#dd3325" stroke="#111" stroke-width="2.3"/>
<circle cx="218.75" cy="1108.30" r="9.5" fill="#dd3325" stroke="#111" stroke-width="2.3"/>
<circle cx="234.78" cy="1146.80" r="9.5" fill="#dd3325" stroke="#111" stroke-width="2.3"/>
<circle cx="250.80" cy="1183.60" r="9.5" fill="#dd3325" stroke="#111" stroke-width="2.3"/>
<circle cx="266.82" cy="1217.00" r="9.5" fill="#dd3325" stroke="#111" stroke-width="2.3"/>
<circle cx="282.85" cy="1256.80" r="9.5" fill="#dd3325" stroke="#111" stroke-width="2.3"/>
<circle cx="298.88" cy="1288.50" r="9.5" fill="#dd3325" stroke="#111" stroke-width="2.3"/>
<circle cx="314.90" cy="1311.80" r="9.5" fill="#dd3325" stroke="#111" stroke-width="2.3"/>
<circle cx="330.93" cy="1321.00" r="9.5" fill="#dd3325" stroke="#111" stroke-width="2.3"/>
<circle cx="346.95" cy="1319.40" r="9.5" fill="#dd3325" stroke="#111" stroke-width="2.3"/>
<circle cx="362.98" cy="1308.20" r="9.5" fill="#dd3325" stroke="#111" stroke-width="2.3"/>
<circle cx="379.00" cy="1289.80" r="9.5" fill="#dd3325" stroke="#111" stroke-width="2.3"/>
<circle cx="395.02" cy="1259.30" r="9.5" fill="#dd3325" stroke="#111" stroke-width="2.3"/>
<circle cx="411.05" cy="1237.80" r="9.5" fill="#dd3325" stroke="#111" stroke-width="2.3"/>
<circle cx="427.07" cy="1200.00" r="9.5" fill="#dd3325" stroke="#111" stroke-width="2.3"/>
<circle cx="443.10" cy="1172.30" r="9.5" fill="#dd3325" stroke="#111" stroke-width="2.3"/>
<line x1="49.10" y1="1232.80" x2="85.60" y2="1232.80" stroke="#111" stroke-width="2.2"/>
<circle cx="67.20" cy="1232.80" r="9.6" fill="#dd3325" stroke="#111" stroke-width="2.3"/>
<line x1="49.10" y1="1277.40" x2="85.60" y2="1277.40" stroke="#111" stroke-width="2.2"/>
<circle cx="67.20" cy="1277.40" r="9.6" fill="none" stroke="#111" stroke-width="2.3"/>
<line x1="49.10" y1="1322.40" x2="85.60" y2="1322.40" stroke="#111" stroke-width="2.2"/>
<circle cx="67.20" cy="1322.40" r="9.6" fill="#4955a7" stroke="#111" stroke-width="2.3"/>
<text transform="translate(326.70,1007.40) scale(0.8148,1)" font-size="35.93" font-weight="bold" fill="#111">mV</text>
<text transform="translate(23.45,1051.30) scale(0.7963,1)" font-size="37.71" stroke="#111" stroke-width="0.22" fill="#111">-100</text>
<text transform="translate(99.16,1051.30) scale(0.7898,1)" font-size="37.71" stroke="#111" stroke-width="0.22" fill="#111">-80</text>
<text transform="translate(164.65,1051.30) scale(0.7976,1)" font-size="37.71" stroke="#111" stroke-width="0.22" fill="#111">-60</text>
<text transform="translate(229.46,1051.30) scale(0.7917,1)" font-size="37.71" stroke="#111" stroke-width="0.22" fill="#111">-40</text>
<text transform="translate(290.73,1051.30) scale(0.8073,1)" font-size="37.71" stroke="#111" stroke-width="0.22" fill="#111">-20</text>
<text transform="translate(368.57,1051.30) scale(0.8152,1)" font-size="37.71" stroke="#111" stroke-width="0.22" fill="#111">0</text>
<text transform="translate(425.15,1051.30) scale(0.8242,1)" font-size="37.71" stroke="#111" stroke-width="0.22" fill="#111">20</text>
<text transform="translate(490.81,1051.30) scale(0.8127,1)" font-size="37.71" stroke="#111" stroke-width="0.22" fill="#111">40</text>
<text transform="translate(330.13,1245.30) scale(0.7459,1)" font-size="37.71" stroke="#111" stroke-width="0.22" fill="#111">-5</text>
<text transform="translate(321.78,1387.60) scale(0.7800,1)" font-size="37.71" stroke="#111" stroke-width="0.22" fill="#111">-10</text>
<text transform="translate(96.74,1240.48) scale(0.8318,1)" font-size="29.35" stroke="#111" stroke-width="0.22" fill="#111">+/+</text>
<rect x="97.90" y="1273.20" width="9.7" height="4.2" fill="#111"/>
<rect x="116.90" y="1273.20" width="9.7" height="4.2" fill="#111"/>
<line x1="109.80" y1="1286.50" x2="114.60" y2="1265.50" stroke="#111" stroke-width="1.8"/>
<text transform="translate(93.45,1333.60) scale(0.7952,1)" font-size="31.27" stroke="#111" stroke-width="0.22" fill="#111">RH/RH</text>
<text transform="translate(469.00,1306.75) rotate(-90) scale(0.8019,1)" font-size="35.45" font-weight="bold" fill="#111">pA/pF</text>
<text transform="translate(511.90,1341.10) rotate(-90) scale(0.8150,1)" font-size="36.83" font-weight="bold" fill="#111">(HVA only)</text>
<defs>
<pattern id="hb" patternUnits="userSpaceOnUse" width="20" height="5.0" patternTransform="rotate(-45)">
<rect y="0" width="20" height="2.2" fill="#3f4aa3"/></pattern>
<pattern id="hk" patternUnits="userSpaceOnUse" width="20" height="5.0" patternTransform="rotate(-45)">
<rect y="0" width="20" height="3.55" fill="#111"/></pattern>
</defs>
<line x1="814.80" y1="538.10" x2="814.80" y2="832.80" stroke="#111" stroke-width="3.0"/>
<line x1="803.60" y1="539.60" x2="814.80" y2="539.60" stroke="#111" stroke-width="3.0"/>
<line x1="803.60" y1="637.40" x2="814.80" y2="637.40" stroke="#111" stroke-width="3.0"/>
<line x1="803.60" y1="734.60" x2="814.80" y2="734.60" stroke="#111" stroke-width="3.0"/>
<line x1="803.60" y1="831.80" x2="814.80" y2="831.80" stroke="#111" stroke-width="3.0"/>
<line x1="814.80" y1="637.40" x2="1003.60" y2="637.40" stroke="#111" stroke-width="3.1" stroke-dasharray="11.8,6"/>
<rect x="834.20" y="640.50" width="38.20" height="191.30" fill="#dd3325" stroke="#111" stroke-width="3.4"/>
<rect x="892.80" y="700.30" width="38.30" height="131.50" fill="#4955a7" stroke="#111" stroke-width="3.4"/>
<rect x="950.90" y="772.80" width="38.50" height="59.00" fill="#fff" stroke="#111" stroke-width="3.4"/>
<line x1="853.50" y1="618.10" x2="853.50" y2="657.40" stroke="#111" stroke-width="3.2"/>
<line x1="911.60" y1="684.50" x2="911.60" y2="710.70" stroke="#111" stroke-width="3.2"/>
<line x1="970.10" y1="757.40" x2="970.10" y2="783.50" stroke="#111" stroke-width="3.2"/>
<line x1="803.60" y1="831.80" x2="1009.20" y2="831.80" stroke="#111" stroke-width="3.3"/>
<line x1="853.40" y1="831.80" x2="853.40" y2="843.00" stroke="#111" stroke-width="3.1"/>
<line x1="911.60" y1="831.80" x2="911.60" y2="843.00" stroke="#111" stroke-width="3.1"/>
<line x1="970.00" y1="831.80" x2="970.00" y2="843.00" stroke="#111" stroke-width="3.1"/>
<text transform="translate(745.79,559.60) scale(0.7807,1)" font-size="37.71" stroke="#111" stroke-width="0.22" fill="#111">150</text>
<text transform="translate(745.82,653.65) scale(0.7704,1)" font-size="37.71" stroke="#111" stroke-width="0.22" fill="#111">100</text>
<text transform="translate(758.58,752.85) scale(0.8085,1)" font-size="37.71" stroke="#111" stroke-width="0.22" fill="#111">50</text>
<text transform="translate(771.13,840.55) scale(0.7761,1)" font-size="37.71" stroke="#111" stroke-width="0.22" fill="#111">0</text>
<text transform="translate(905.93,682.41) scale(0.8723,1)" font-size="30.27" font-weight="bold" fill="#111">*</text>
<text transform="translate(953.03,750.20) scale(0.7987,1)" font-size="34.32" font-weight="bold" fill="#111">***</text>
<text transform="translate(682.20,783.60) rotate(-90) scale(0.7711,1)" font-size="36.55" font-weight="bold" fill="#111">% change in</text>
<text transform="translate(725.40,817.25) rotate(-90) scale(0.7916,1)" font-size="36.55" font-weight="bold" fill="#111">LVA peak Current</text>
<g transform="translate(831.60,876.70) rotate(-45)" fill="#111"><rect x="-6.10" y="-1.70" width="12.2" height="3.4"/><rect x="-1.65" y="-7.75" width="3.30" height="15.5"/><line x1="8.70" y1="9.60" x2="12.50" y2="-10.30" stroke="#111" stroke-width="2.3"/><rect x="14.90" y="-1.70" width="12.2" height="3.4"/><rect x="19.35" y="-7.75" width="3.30" height="15.5"/></g>
<text transform="translate(872.63,918.95) rotate(-45) scale(0.8200,1)" font-size="29.60" font-weight="bold" fill="#111">RH/RH</text>
<g transform="translate(956.20,874.80) rotate(-45)" fill="#111"><rect x="-4.85" y="-3.85" width="9.7" height="5.7"/><line x1="7.65" y1="9.60" x2="11.45" y2="-10.30" stroke="#111" stroke-width="2.3"/><rect x="14.20" y="-3.85" width="9.7" height="5.7"/></g>
<line x1="1240.40" y1="536.60" x2="1240.40" y2="831.80" stroke="#111" stroke-width="3.0"/>
<line x1="1229.20" y1="538.10" x2="1240.40" y2="538.10" stroke="#111" stroke-width="3.0"/>
<line x1="1229.20" y1="636.30" x2="1240.40" y2="636.30" stroke="#111" stroke-width="3.0"/>
<line x1="1229.20" y1="733.30" x2="1240.40" y2="733.30" stroke="#111" stroke-width="3.0"/>
<line x1="1229.20" y1="830.80" x2="1240.40" y2="830.80" stroke="#111" stroke-width="3.0"/>
<line x1="1240.40" y1="636.30" x2="1428.80" y2="636.30" stroke="#111" stroke-width="3.1" stroke-dasharray="11.8,6"/>
<rect x="1259.60" y="634.40" width="37.80" height="192.40" fill="#dd3325"/>
<rect x="1259.60" y="638.40" width="37.80" height="192.40" fill="none" stroke="#111" stroke-width="3.4"/>
<clipPath id="hc1"><rect x="1317.70" y="617.00" width="38.40" height="213.80"/></clipPath>
<path clip-path="url(#hc1)" d="M1101.90,832.80L1319.70,615.00M1108.97,832.80L1326.77,615.00M1116.04,832.80L1333.84,615.00M1123.11,832.80L1340.91,615.00M1130.18,832.80L1347.98,615.00M1137.25,832.80L1355.05,615.00M1144.32,832.80L1362.12,615.00M1151.39,832.80L1369.19,615.00M1158.46,832.80L1376.26,615.00M1165.53,832.80L1383.33,615.00M1172.60,832.80L1390.40,615.00M1179.67,832.80L1397.47,615.00M1186.74,832.80L1404.54,615.00M1193.81,832.80L1411.61,615.00M1200.88,832.80L1418.68,615.00M1207.95,832.80L1425.75,615.00M1215.02,832.80L1432.82,615.00M1222.09,832.80L1439.89,615.00M1229.16,832.80L1446.96,615.00M1236.23,832.80L1454.03,615.00M1243.30,832.80L1461.10,615.00M1250.37,832.80L1468.17,615.00M1257.44,832.80L1475.24,615.00M1264.51,832.80L1482.31,615.00M1271.58,832.80L1489.38,615.00M1278.65,832.80L1496.45,615.00M1285.72,832.80L1503.52,615.00M1292.79,832.80L1510.59,615.00M1299.86,832.80L1517.66,615.00M1306.93,832.80L1524.73,615.00M1314.00,832.80L1531.80,615.00M1321.07,832.80L1538.87,615.00M1328.14,832.80L1545.94,615.00M1335.21,832.80L1553.01,615.00M1342.28,832.80L1560.08,615.00M1349.35,832.80L1567.15,615.00M1356.42,832.80L1574.22,615.00" stroke="#3f4aa3" stroke-width="2.2" fill="none"/>
<rect x="1317.70" y="617.00" width="38.40" height="213.80" fill="none" stroke="#111" stroke-width="3.4"/>
<clipPath id="hc2"><rect x="1376.00" y="699.10" width="38.30" height="131.70"/></clipPath>
<path clip-path="url(#hc2)" d="M1242.30,832.80L1378.00,697.10M1249.37,832.80L1385.07,697.10M1256.44,832.80L1392.14,697.10M1263.51,832.80L1399.21,697.10M1270.58,832.80L1406.28,697.10M1277.65,832.80L1413.35,697.10M1284.72,832.80L1420.42,697.10M1291.79,832.80L1427.49,697.10M1298.86,832.80L1434.56,697.10M1305.93,832.80L1441.63,697.10M1313.00,832.80L1448.70,697.10M1320.07,832.80L1455.77,697.10M1327.14,832.80L1462.84,697.10M1334.21,832.80L1469.91,697.10M1341.28,832.80L1476.98,697.10M1348.35,832.80L1484.05,697.10M1355.42,832.80L1491.12,697.10M1362.49,832.80L1498.19,697.10M1369.56,832.80L1505.26,697.10M1376.63,832.80L1512.33,697.10M1383.70,832.80L1519.40,697.10M1390.77,832.80L1526.47,697.10M1397.84,832.80L1533.54,697.10M1404.91,832.80L1540.61,697.10M1411.98,832.80L1547.68,697.10M1419.05,832.80L1554.75,697.10" stroke="#111" stroke-width="3.6" fill="none"/>
<rect x="1376.00" y="699.10" width="38.30" height="131.70" fill="none" stroke="#111" stroke-width="3.4"/>
<line x1="1278.70" y1="616.80" x2="1278.70" y2="656.00" stroke="#111" stroke-width="3.2"/>
<line x1="1336.60" y1="598.10" x2="1336.60" y2="630.30" stroke="#111" stroke-width="3.2"/>
<line x1="1395.10" y1="684.90" x2="1395.10" y2="712.00" stroke="#111" stroke-width="3.2"/>
<line x1="1229.20" y1="830.80" x2="1433.80" y2="830.80" stroke="#111" stroke-width="3.3"/>
<line x1="1278.30" y1="830.80" x2="1278.30" y2="841.50" stroke="#111" stroke-width="3.1"/>
<line x1="1336.80" y1="830.80" x2="1336.80" y2="841.50" stroke="#111" stroke-width="3.1"/>
<line x1="1395.10" y1="830.80" x2="1395.10" y2="841.50" stroke="#111" stroke-width="3.1"/>
<text transform="translate(1172.42,557.45) scale(0.7721,1)" font-size="37.71" stroke="#111" stroke-width="0.22" fill="#111">150</text>
<text transform="translate(1172.42,651.55) scale(0.7721,1)" font-size="37.71" stroke="#111" stroke-width="0.22" fill="#111">100</text>
<text transform="translate(1185.51,751.00) scale(0.7905,1)" font-size="37.71" stroke="#111" stroke-width="0.22" fill="#111">50</text>
<text transform="translate(1197.70,838.10) scale(0.7928,1)" font-size="37.71" stroke="#111" stroke-width="0.22" fill="#111">0</text>
<text transform="translate(1390.34,681.75) scale(0.8165,1)" font-size="29.46" font-weight="bold" fill="#111">*</text>
<text transform="translate(1111.60,796.51) rotate(-90) scale(0.7939,1)" font-size="35.72" font-weight="bold" fill="#111">% change in</text>
<text transform="translate(1154.80,829.26) rotate(-90) scale(0.8137,1)" font-size="35.72" font-weight="bold" fill="#111">LVA peak Current</text>
<g transform="translate(1256.90,876.80) rotate(-45)" fill="#111"><rect x="-6.10" y="-1.70" width="12.2" height="3.4"/><rect x="-1.65" y="-7.75" width="3.30" height="15.5"/><line x1="8.70" y1="9.60" x2="12.50" y2="-10.30" stroke="#111" stroke-width="2.3"/><rect x="14.90" y="-1.70" width="12.2" height="3.4"/><rect x="19.35" y="-7.75" width="3.30" height="15.5"/></g>
<text transform="translate(1304.62,905.09) rotate(-45) scale(0.8200,1)" font-size="29.60" font-weight="bold" fill="#111">+/RH</text>
<g transform="translate(1381.90,871.80) rotate(-45)" fill="#111"><rect x="-6.10" y="-1.70" width="12.2" height="3.4"/><rect x="-1.65" y="-7.75" width="3.30" height="15.5"/><line x1="8.70" y1="9.60" x2="12.50" y2="-10.30" stroke="#111" stroke-width="2.3"/><rect x="15.25" y="-3.85" width="9.7" height="5.7"/></g>
<line x1="819.40" y1="1042.40" x2="819.40" y2="1337.40" stroke="#111" stroke-width="3.0"/>
<line x1="808.20" y1="1043.90" x2="819.40" y2="1043.90" stroke="#111" stroke-width="3.0"/>
<line x1="808.20" y1="1141.70" x2="819.40" y2="1141.70" stroke="#111" stroke-width="3.0"/>
<line x1="808.20" y1="1238.90" x2="819.40" y2="1238.90" stroke="#111" stroke-width="3.0"/>
<line x1="808.20" y1="1336.40" x2="819.40" y2="1336.40" stroke="#111" stroke-width="3.0"/>
<line x1="819.40" y1="1141.70" x2="1008.20" y2="1141.70" stroke="#111" stroke-width="3.1" stroke-dasharray="11.8,6"/>
<rect x="839.30" y="1144.90" width="37.50" height="191.50" fill="#dd3325" stroke="#111" stroke-width="3.4"/>
<rect x="897.50" y="1164.80" width="37.90" height="171.60" fill="#4955a7" stroke="#111" stroke-width="3.4"/>
<rect x="955.90" y="1157.80" width="38.30" height="178.60" fill="#fff" stroke="#111" stroke-width="3.4"/>
<line x1="858.20" y1="1117.50" x2="858.20" y2="1167.30" stroke="#111" stroke-width="3.2"/>
<line x1="916.40" y1="1140.00" x2="916.40" y2="1185.50" stroke="#111" stroke-width="3.2"/>
<line x1="974.80" y1="1133.60" x2="974.80" y2="1177.10" stroke="#111" stroke-width="3.2"/>
<line x1="808.20" y1="1336.40" x2="1013.80" y2="1336.40" stroke="#111" stroke-width="3.3"/>
<line x1="857.90" y1="1336.40" x2="857.90" y2="1347.70" stroke="#111" stroke-width="3.1"/>
<line x1="916.30" y1="1336.40" x2="916.30" y2="1347.70" stroke="#111" stroke-width="3.1"/>
<line x1="975.00" y1="1336.40" x2="975.00" y2="1347.70" stroke="#111" stroke-width="3.1"/>
<text transform="translate(749.01,1061.25) scale(0.7738,1)" font-size="37.71" stroke="#111" stroke-width="0.22" fill="#111">150</text>
<text transform="translate(749.01,1155.30) scale(0.7738,1)" font-size="37.71" stroke="#111" stroke-width="0.22" fill="#111">100</text>
<text transform="translate(762.29,1254.75) scale(0.8008,1)" font-size="37.71" stroke="#111" stroke-width="0.22" fill="#111">50</text>
<text transform="translate(773.85,1342.55) scale(0.8263,1)" font-size="37.71" stroke="#111" stroke-width="0.22" fill="#111">0</text>
<text transform="translate(688.70,1298.52) rotate(-90) scale(0.7795,1)" font-size="36.83" font-weight="bold" fill="#111">% change in</text>
<text transform="translate(731.90,1333.15) rotate(-90) scale(0.8025,1)" font-size="36.00" font-weight="bold" fill="#111">HVA peak Current</text>
<g transform="translate(837.80,1384.30) rotate(-45)" fill="#111"><rect x="-6.10" y="-1.70" width="12.2" height="3.4"/><rect x="-1.65" y="-7.75" width="3.30" height="15.5"/><line x1="8.70" y1="9.60" x2="12.50" y2="-10.30" stroke="#111" stroke-width="2.3"/><rect x="14.90" y="-1.70" width="12.2" height="3.4"/><rect x="19.35" y="-7.75" width="3.30" height="15.5"/></g>
<text transform="translate(877.98,1426.08) rotate(-45) scale(0.8200,1)" font-size="29.70" font-weight="bold" fill="#111">RH/RH</text>
<g transform="translate(961.90,1381.90) rotate(-45)" fill="#111"><rect x="-4.85" y="-3.85" width="9.7" height="5.7"/><line x1="7.65" y1="9.60" x2="11.45" y2="-10.30" stroke="#111" stroke-width="2.3"/><rect x="14.20" y="-3.85" width="9.7" height="5.7"/></g>
<line x1="1240.70" y1="1042.40" x2="1240.70" y2="1337.40" stroke="#111" stroke-width="3.0"/>
<line x1="1229.50" y1="1043.90" x2="1240.70" y2="1043.90" stroke="#111" stroke-width="3.0"/>
<line x1="1229.50" y1="1141.50" x2="1240.70" y2="1141.50" stroke="#111" stroke-width="3.0"/>
<line x1="1229.50" y1="1238.90" x2="1240.70" y2="1238.90" stroke="#111" stroke-width="3.0"/>
<line x1="1229.50" y1="1336.40" x2="1240.70" y2="1336.40" stroke="#111" stroke-width="3.0"/>
<line x1="1240.70" y1="1141.50" x2="1428.80" y2="1141.50" stroke="#111" stroke-width="3.1" stroke-dasharray="11.8,6"/>
<rect x="1259.60" y="1144.20" width="38.00" height="192.20" fill="#dd3325" stroke="#111" stroke-width="3.4"/>
<clipPath id="hc3"><rect x="1317.80" y="1171.80" width="38.40" height="164.60"/></clipPath>
<path clip-path="url(#hc3)" d="M1151.20,1338.40L1319.80,1169.80M1158.27,1338.40L1326.87,1169.80M1165.34,1338.40L1333.94,1169.80M1172.41,1338.40L1341.01,1169.80M1179.48,1338.40L1348.08,1169.80M1186.55,1338.40L1355.15,1169.80M1193.62,1338.40L1362.22,1169.80M1200.69,1338.40L1369.29,1169.80M1207.76,1338.40L1376.36,1169.80M1214.83,1338.40L1383.43,1169.80M1221.90,1338.40L1390.50,1169.80M1228.97,1338.40L1397.57,1169.80M1236.04,1338.40L1404.64,1169.80M1243.11,1338.40L1411.71,1169.80M1250.18,1338.40L1418.78,1169.80M1257.25,1338.40L1425.85,1169.80M1264.32,1338.40L1432.92,1169.80M1271.39,1338.40L1439.99,1169.80M1278.46,1338.40L1447.06,1169.80M1285.53,1338.40L1454.13,1169.80M1292.60,1338.40L1461.20,1169.80M1299.67,1338.40L1468.27,1169.80M1306.74,1338.40L1475.34,1169.80M1313.81,1338.40L1482.41,1169.80M1320.88,1338.40L1489.48,1169.80M1327.95,1338.40L1496.55,1169.80M1335.02,1338.40L1503.62,1169.80M1342.09,1338.40L1510.69,1169.80M1349.16,1338.40L1517.76,1169.80M1356.23,1338.40L1524.83,1169.80" stroke="#3f4aa3" stroke-width="2.2" fill="none"/>
<rect x="1317.80" y="1171.80" width="38.40" height="164.60" fill="none" stroke="#111" stroke-width="3.4"/>
<clipPath id="hc4"><rect x="1376.00" y="1170.00" width="38.70" height="166.40"/></clipPath>
<path clip-path="url(#hc4)" d="M1207.60,1338.40L1378.00,1168.00M1214.67,1338.40L1385.07,1168.00M1221.74,1338.40L1392.14,1168.00M1228.81,1338.40L1399.21,1168.00M1235.88,1338.40L1406.28,1168.00M1242.95,1338.40L1413.35,1168.00M1250.02,1338.40L1420.42,1168.00M1257.09,1338.40L1427.49,1168.00M1264.16,1338.40L1434.56,1168.00M1271.23,1338.40L1441.63,1168.00M1278.30,1338.40L1448.70,1168.00M1285.37,1338.40L1455.77,1168.00M1292.44,1338.40L1462.84,1168.00M1299.51,1338.40L1469.91,1168.00M1306.58,1338.40L1476.98,1168.00M1313.65,1338.40L1484.05,1168.00M1320.72,1338.40L1491.12,1168.00M1327.79,1338.40L1498.19,1168.00M1334.86,1338.40L1505.26,1168.00M1341.93,1338.40L1512.33,1168.00M1349.00,1338.40L1519.40,1168.00M1356.07,1338.40L1526.47,1168.00M1363.14,1338.40L1533.54,1168.00M1370.21,1338.40L1540.61,1168.00M1377.28,1338.40L1547.68,1168.00M1384.35,1338.40L1554.75,1168.00M1391.42,1338.40L1561.82,1168.00M1398.49,1338.40L1568.89,1168.00M1405.56,1338.40L1575.96,1168.00M1412.63,1338.40L1583.03,1168.00M1419.70,1338.40L1590.10,1168.00" stroke="#111" stroke-width="3.6" fill="none"/>
<rect x="1376.00" y="1170.00" width="38.70" height="166.40" fill="none" stroke="#111" stroke-width="3.4"/>
<line x1="1279.00" y1="1119.60" x2="1279.00" y2="1164.50" stroke="#111" stroke-width="3.2"/>
<line x1="1337.20" y1="1138.60" x2="1337.20" y2="1200.40" stroke="#111" stroke-width="3.2"/>
<line x1="1395.30" y1="1153.00" x2="1395.30" y2="1182.00" stroke="#111" stroke-width="3.2"/>
<line x1="1229.50" y1="1336.40" x2="1434.40" y2="1336.40" stroke="#111" stroke-width="3.3"/>
<line x1="1278.30" y1="1336.40" x2="1278.30" y2="1346.70" stroke="#111" stroke-width="3.1"/>
<line x1="1336.80" y1="1336.40" x2="1336.80" y2="1346.70" stroke="#111" stroke-width="3.1"/>
<line x1="1395.10" y1="1336.40" x2="1395.10" y2="1346.70" stroke="#111" stroke-width="3.1"/>
<text transform="translate(1170.93,1061.55) scale(0.7670,1)" font-size="37.71" stroke="#111" stroke-width="0.22" fill="#111">150</text>
<text transform="translate(1170.96,1155.80) scale(0.7568,1)" font-size="37.71" stroke="#111" stroke-width="0.22" fill="#111">100</text>
<text transform="translate(1183.58,1254.75) scale(0.8059,1)" font-size="37.71" stroke="#111" stroke-width="0.22" fill="#111">50</text>
<text transform="translate(1195.80,1342.55) scale(0.7928,1)" font-size="37.71" stroke="#111" stroke-width="0.22" fill="#111">0</text>
<text transform="translate(1111.60,1296.51) rotate(-90) scale(0.7832,1)" font-size="36.28" font-weight="bold" fill="#111">% change in</text>
<text transform="translate(1154.80,1331.13) rotate(-90) scale(0.7898,1)" font-size="36.28" font-weight="bold" fill="#111">HVA peak Current</text>
<g transform="translate(1262.50,1384.30) rotate(-45)" fill="#111"><rect x="-6.10" y="-1.70" width="12.2" height="3.4"/><rect x="-1.65" y="-7.75" width="3.30" height="15.5"/><line x1="8.70" y1="9.60" x2="12.50" y2="-10.30" stroke="#111" stroke-width="2.3"/><rect x="14.90" y="-1.70" width="12.2" height="3.4"/><rect x="19.35" y="-7.75" width="3.30" height="15.5"/></g>
<text transform="translate(1310.22,1411.69) rotate(-45) scale(0.8200,1)" font-size="29.60" font-weight="bold" fill="#111">+/RH</text>
<g transform="translate(1387.50,1380.20) rotate(-45)" fill="#111"><rect x="-6.10" y="-1.70" width="12.2" height="3.4"/><rect x="-1.65" y="-7.75" width="3.30" height="15.5"/><line x1="8.70" y1="9.60" x2="12.50" y2="-10.30" stroke="#111" stroke-width="2.3"/><rect x="15.25" y="-3.85" width="9.7" height="5.7"/></g>
</svg>
</body></html>
